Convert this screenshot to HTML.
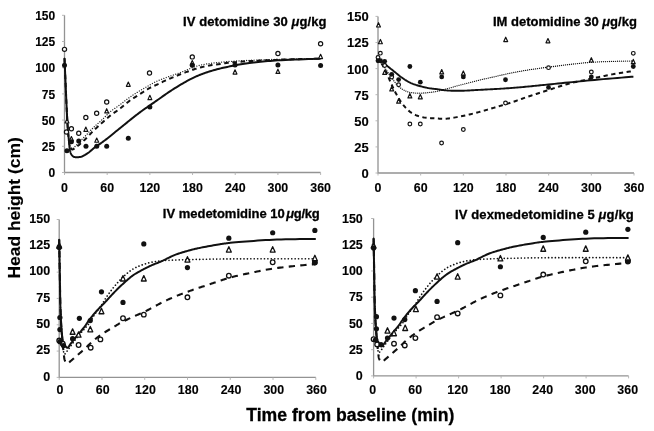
<!DOCTYPE html>
<html><head><meta charset="utf-8"><style>
html,body{margin:0;padding:0;background:#fff;}
body{width:654px;height:431px;overflow:hidden;font-family:"Liberation Sans",sans-serif;}
svg{display:block;filter:blur(0.4px);}
</style></head><body>
<svg width="654" height="431" viewBox="0 0 654 431">
<rect width="654" height="431" fill="#fff"/>
<path d="M64.50,15.30 L64.50,172.50 L320.60,172.50" fill="none" stroke="#939393" stroke-width="1.3"/>
<line x1="62.00" y1="172.50" x2="64.50" y2="172.50" stroke="#b0b0b0" stroke-width="0.9"/>
<text x="55.20" y="177.20" text-anchor="end" font-size="12" font-family="Liberation Sans, sans-serif" font-weight="bold" stroke="#000" stroke-width="0.12">0</text>
<line x1="62.00" y1="146.30" x2="64.50" y2="146.30" stroke="#b0b0b0" stroke-width="0.9"/>
<text x="55.20" y="151.00" text-anchor="end" font-size="12" font-family="Liberation Sans, sans-serif" font-weight="bold" stroke="#000" stroke-width="0.12">25</text>
<line x1="62.00" y1="120.10" x2="64.50" y2="120.10" stroke="#b0b0b0" stroke-width="0.9"/>
<text x="55.20" y="124.80" text-anchor="end" font-size="12" font-family="Liberation Sans, sans-serif" font-weight="bold" stroke="#000" stroke-width="0.12">50</text>
<line x1="62.00" y1="93.90" x2="64.50" y2="93.90" stroke="#b0b0b0" stroke-width="0.9"/>
<text x="55.20" y="98.60" text-anchor="end" font-size="12" font-family="Liberation Sans, sans-serif" font-weight="bold" stroke="#000" stroke-width="0.12">75</text>
<line x1="62.00" y1="67.70" x2="64.50" y2="67.70" stroke="#b0b0b0" stroke-width="0.9"/>
<text x="55.20" y="72.40" text-anchor="end" font-size="12" font-family="Liberation Sans, sans-serif" font-weight="bold" stroke="#000" stroke-width="0.12">100</text>
<line x1="62.00" y1="41.50" x2="64.50" y2="41.50" stroke="#b0b0b0" stroke-width="0.9"/>
<text x="55.20" y="46.20" text-anchor="end" font-size="12" font-family="Liberation Sans, sans-serif" font-weight="bold" stroke="#000" stroke-width="0.12">125</text>
<line x1="62.00" y1="15.30" x2="64.50" y2="15.30" stroke="#b0b0b0" stroke-width="0.9"/>
<text x="55.20" y="20.00" text-anchor="end" font-size="12" font-family="Liberation Sans, sans-serif" font-weight="bold" stroke="#000" stroke-width="0.12">150</text>
<line x1="64.50" y1="172.50" x2="64.50" y2="175.00" stroke="#b0b0b0" stroke-width="0.9"/>
<text transform="translate(64.50,191.80) scale(1,1.09)" text-anchor="middle" font-size="12.4" font-family="Liberation Sans, sans-serif" font-weight="bold" stroke="#000" stroke-width="0.12">0</text>
<line x1="107.18" y1="172.50" x2="107.18" y2="175.00" stroke="#b0b0b0" stroke-width="0.9"/>
<text transform="translate(107.18,191.80) scale(1,1.09)" text-anchor="middle" font-size="12.4" font-family="Liberation Sans, sans-serif" font-weight="bold" stroke="#000" stroke-width="0.12">60</text>
<line x1="149.87" y1="172.50" x2="149.87" y2="175.00" stroke="#b0b0b0" stroke-width="0.9"/>
<text transform="translate(149.87,191.80) scale(1,1.09)" text-anchor="middle" font-size="12.4" font-family="Liberation Sans, sans-serif" font-weight="bold" stroke="#000" stroke-width="0.12">120</text>
<line x1="192.55" y1="172.50" x2="192.55" y2="175.00" stroke="#b0b0b0" stroke-width="0.9"/>
<text transform="translate(192.55,191.80) scale(1,1.09)" text-anchor="middle" font-size="12.4" font-family="Liberation Sans, sans-serif" font-weight="bold" stroke="#000" stroke-width="0.12">180</text>
<line x1="235.23" y1="172.50" x2="235.23" y2="175.00" stroke="#b0b0b0" stroke-width="0.9"/>
<text transform="translate(235.23,191.80) scale(1,1.09)" text-anchor="middle" font-size="12.4" font-family="Liberation Sans, sans-serif" font-weight="bold" stroke="#000" stroke-width="0.12">240</text>
<line x1="277.92" y1="172.50" x2="277.92" y2="175.00" stroke="#b0b0b0" stroke-width="0.9"/>
<text transform="translate(277.92,191.80) scale(1,1.09)" text-anchor="middle" font-size="12.4" font-family="Liberation Sans, sans-serif" font-weight="bold" stroke="#000" stroke-width="0.12">300</text>
<line x1="320.60" y1="172.50" x2="320.60" y2="175.00" stroke="#b0b0b0" stroke-width="0.9"/>
<text transform="translate(320.60,191.80) scale(1,1.09)" text-anchor="middle" font-size="12.4" font-family="Liberation Sans, sans-serif" font-weight="bold" stroke="#000" stroke-width="0.12">360</text>
<path d="M64.50,58.27 L64.52,58.65 L64.56,59.71 L64.63,61.36 L64.72,63.51 L64.83,66.05 L64.95,68.88 L65.08,71.91 L65.21,75.04 L65.35,78.16 L65.48,81.19 L65.60,84.03 L65.71,86.56 L65.81,88.95 L65.92,91.38 L66.02,93.85 L66.13,96.32 L66.24,98.80 L66.35,101.26 L66.45,103.70 L66.56,106.08 L66.67,108.41 L66.78,110.65 L66.88,112.81 L66.99,114.86 L67.07,116.29 L67.14,117.67 L67.21,119.02 L67.29,120.33 L67.36,121.60 L67.43,122.85 L67.51,124.07 L67.58,125.27 L67.66,126.45 L67.74,127.63 L67.83,128.79 L67.91,129.95 L67.99,130.95 L68.06,131.95 L68.14,132.95 L68.21,133.94 L68.28,134.92 L68.36,135.88 L68.44,136.82 L68.53,137.73 L68.63,138.62 L68.73,139.47 L68.85,140.29 L68.98,141.06 L69.08,141.58 L69.17,142.08 L69.27,142.56 L69.38,143.04 L69.48,143.49 L69.59,143.94 L69.71,144.37 L69.83,144.78 L69.96,145.18 L70.10,145.57 L70.25,145.94 L70.40,146.30 L70.53,146.57 L70.66,146.86 L70.80,147.15 L70.94,147.43 L71.08,147.71 L71.23,147.97 L71.38,148.22 L71.53,148.43 L71.69,148.62 L71.85,148.76 L72.02,148.87 L72.18,148.92 L72.33,148.92 L72.48,148.89 L72.63,148.82 L72.79,148.72 L72.94,148.59 L73.10,148.44 L73.26,148.28 L73.43,148.10 L73.60,147.92 L73.79,147.73 L73.98,147.54 L74.17,147.35 L74.58,146.98 L75.02,146.55 L75.49,146.08 L75.99,145.57 L76.51,145.02 L77.05,144.46 L77.60,143.88 L78.15,143.30 L78.70,142.71 L79.25,142.14 L79.78,141.59 L80.29,141.06 L80.77,140.57 L81.25,140.09 L81.72,139.61 L82.19,139.14 L82.66,138.67 L83.13,138.19 L83.60,137.72 L84.07,137.25 L84.54,136.77 L85.02,136.28 L85.50,135.79 L85.98,135.30 L86.51,134.75 L87.03,134.21 L87.54,133.66 L88.06,133.12 L88.58,132.56 L89.10,132.00 L89.63,131.44 L90.18,130.87 L90.74,130.29 L91.31,129.70 L91.91,129.10 L92.53,128.48 L93.37,127.67 L94.27,126.82 L95.22,125.94 L96.21,125.04 L97.22,124.12 L98.24,123.20 L99.26,122.28 L100.26,121.37 L101.24,120.48 L102.19,119.62 L103.08,118.79 L103.91,118.00 L104.49,117.44 L105.03,116.90 L105.54,116.37 L106.03,115.86 L106.51,115.35 L106.99,114.86 L107.46,114.37 L107.93,113.88 L108.42,113.39 L108.93,112.91 L109.46,112.42 L110.03,111.93 L110.72,111.36 L111.43,110.79 L112.18,110.23 L112.94,109.68 L113.72,109.13 L114.51,108.57 L115.31,108.02 L116.11,107.47 L116.91,106.91 L117.71,106.35 L118.50,105.79 L119.28,105.22 L120.05,104.63 L120.83,104.04 L121.61,103.44 L122.38,102.84 L123.16,102.23 L123.93,101.62 L124.70,101.02 L125.48,100.42 L126.26,99.82 L127.03,99.23 L127.81,98.66 L128.60,98.09 L129.35,97.56 L130.11,97.03 L130.87,96.50 L131.64,95.98 L132.40,95.47 L133.16,94.97 L133.93,94.46 L134.69,93.97 L135.46,93.47 L136.23,92.98 L137.00,92.50 L137.77,92.01 L138.54,91.54 L139.32,91.07 L140.10,90.60 L140.88,90.14 L141.66,89.68 L142.44,89.22 L143.23,88.77 L144.01,88.32 L144.78,87.88 L145.56,87.44 L146.33,87.00 L147.09,86.56 L147.81,86.15 L148.52,85.74 L149.22,85.33 L149.91,84.93 L150.61,84.52 L151.30,84.12 L152.00,83.73 L152.69,83.34 L153.40,82.95 L154.11,82.58 L154.83,82.21 L155.56,81.85 L156.31,81.49 L157.06,81.15 L157.82,80.82 L158.57,80.49 L159.33,80.18 L160.10,79.87 L160.88,79.56 L161.67,79.25 L162.48,78.94 L163.30,78.62 L164.15,78.30 L165.02,77.97 L166.14,77.55 L167.29,77.14 L168.47,76.72 L169.67,76.30 L170.90,75.88 L172.16,75.45 L173.43,75.02 L174.72,74.58 L176.02,74.13 L177.32,73.67 L178.64,73.21 L179.96,72.73 L181.48,72.15 L183.04,71.54 L184.64,70.89 L186.25,70.22 L187.88,69.54 L189.52,68.86 L191.17,68.19 L192.80,67.54 L194.43,66.93 L196.04,66.36 L197.62,65.84 L199.17,65.39 L200.49,65.06 L201.81,64.75 L203.12,64.49 L204.42,64.25 L205.71,64.03 L207.00,63.84 L208.27,63.66 L209.53,63.50 L210.78,63.34 L212.02,63.19 L213.25,63.04 L214.46,62.88 L215.51,62.74 L216.53,62.61 L217.52,62.49 L218.50,62.38 L219.46,62.28 L220.42,62.17 L221.40,62.08 L222.39,61.99 L223.40,61.89 L224.45,61.80 L225.55,61.71 L226.70,61.62 L228.34,61.50 L230.05,61.38 L231.83,61.26 L233.67,61.15 L235.55,61.05 L237.48,60.94 L239.44,60.84 L241.42,60.74 L243.43,60.64 L245.44,60.55 L247.45,60.46 L249.46,60.36 L251.70,60.26 L253.95,60.16 L256.22,60.06 L258.50,59.97 L260.80,59.88 L263.13,59.79 L265.49,59.70 L267.89,59.62 L270.32,59.54 L272.80,59.46 L275.33,59.39 L277.92,59.32 L281.44,59.23 L285.52,59.15 L289.98,59.08 L294.67,59.01 L299.41,58.94 L304.05,58.88 L308.43,58.82 L312.37,58.78 L315.73,58.74 L318.33,58.71 L320.00,58.69 L320.60,58.69" fill="none" stroke="#222" stroke-width="1.3" stroke-linecap="round" stroke-dasharray="0.01 2.5"/>
<path d="M64.50,58.27 L64.52,58.65 L64.56,59.71 L64.63,61.36 L64.72,63.51 L64.83,66.05 L64.95,68.88 L65.08,71.91 L65.21,75.04 L65.35,78.16 L65.48,81.19 L65.60,84.03 L65.71,86.56 L65.81,88.95 L65.92,91.38 L66.02,93.85 L66.13,96.32 L66.24,98.80 L66.35,101.26 L66.45,103.70 L66.56,106.08 L66.67,108.41 L66.78,110.65 L66.88,112.81 L66.99,114.86 L67.07,116.29 L67.14,117.67 L67.21,119.02 L67.29,120.33 L67.36,121.60 L67.43,122.85 L67.51,124.07 L67.58,125.27 L67.66,126.45 L67.74,127.63 L67.83,128.79 L67.91,129.95 L67.99,130.95 L68.07,131.94 L68.14,132.92 L68.22,133.90 L68.30,134.86 L68.38,135.81 L68.46,136.75 L68.55,137.66 L68.64,138.55 L68.75,139.41 L68.86,140.25 L68.98,141.06 L69.08,141.66 L69.17,142.26 L69.26,142.85 L69.36,143.43 L69.46,144.00 L69.56,144.55 L69.67,145.09 L69.79,145.60 L69.93,146.08 L70.07,146.54 L70.23,146.96 L70.40,147.35 L70.53,147.59 L70.66,147.83 L70.79,148.06 L70.93,148.28 L71.07,148.49 L71.22,148.69 L71.37,148.87 L71.53,149.04 L71.69,149.18 L71.85,149.29 L72.01,149.38 L72.18,149.44 L72.33,149.47 L72.48,149.48 L72.63,149.46 L72.79,149.42 L72.94,149.37 L73.10,149.31 L73.27,149.23 L73.44,149.14 L73.61,149.04 L73.79,148.93 L73.98,148.82 L74.17,148.71 L74.58,148.46 L75.02,148.16 L75.50,147.81 L76.01,147.42 L76.53,147.00 L77.07,146.56 L77.62,146.10 L78.17,145.62 L78.72,145.15 L79.26,144.68 L79.79,144.22 L80.29,143.78 L80.78,143.36 L81.26,142.94 L81.74,142.52 L82.21,142.10 L82.68,141.67 L83.15,141.25 L83.62,140.81 L84.09,140.37 L84.56,139.93 L85.03,139.48 L85.50,139.02 L85.98,138.54 L86.51,138.01 L87.04,137.47 L87.55,136.92 L88.07,136.37 L88.59,135.80 L89.11,135.23 L89.64,134.65 L90.18,134.06 L90.74,133.47 L91.31,132.86 L91.91,132.25 L92.53,131.63 L93.37,130.81 L94.25,129.96 L95.19,129.08 L96.15,128.18 L97.14,127.26 L98.15,126.34 L99.16,125.42 L100.16,124.52 L101.15,123.63 L102.11,122.76 L103.03,121.94 L103.91,121.15 L104.58,120.54 L105.24,119.95 L105.88,119.37 L106.50,118.81 L107.12,118.25 L107.73,117.71 L108.33,117.18 L108.94,116.65 L109.54,116.14 L110.15,115.64 L110.76,115.14 L111.38,114.65 L111.97,114.21 L112.56,113.78 L113.15,113.37 L113.75,112.97 L114.35,112.57 L114.94,112.18 L115.54,111.80 L116.13,111.41 L116.71,111.03 L117.29,110.64 L117.86,110.24 L118.42,109.83 L118.95,109.44 L119.46,109.04 L119.97,108.64 L120.47,108.24 L120.96,107.84 L121.45,107.43 L121.94,107.03 L122.43,106.62 L122.92,106.22 L123.41,105.82 L123.90,105.41 L124.40,105.01 L124.89,104.61 L125.39,104.20 L125.88,103.79 L126.36,103.38 L126.85,102.98 L127.34,102.57 L127.83,102.16 L128.33,101.76 L128.83,101.36 L129.33,100.96 L129.85,100.57 L130.37,100.19 L130.93,99.79 L131.50,99.41 L132.08,99.02 L132.66,98.64 L133.25,98.27 L133.85,97.90 L134.45,97.53 L135.04,97.16 L135.64,96.79 L136.24,96.42 L136.83,96.05 L137.42,95.68 L138.00,95.31 L138.58,94.94 L139.16,94.56 L139.75,94.19 L140.33,93.81 L140.91,93.44 L141.49,93.07 L142.07,92.70 L142.64,92.34 L143.20,91.98 L143.76,91.63 L144.32,91.28 L144.81,90.97 L145.28,90.67 L145.74,90.38 L146.20,90.09 L146.65,89.80 L147.11,89.51 L147.56,89.23 L148.03,88.95 L148.50,88.67 L148.99,88.39 L149.49,88.10 L150.01,87.82 L150.66,87.48 L151.34,87.15 L152.04,86.81 L152.76,86.48 L153.49,86.14 L154.24,85.81 L154.99,85.48 L155.73,85.15 L156.47,84.82 L157.20,84.49 L157.92,84.17 L158.62,83.84 L159.24,83.54 L159.86,83.23 L160.48,82.93 L161.08,82.62 L161.69,82.32 L162.29,82.02 L162.88,81.72 L163.48,81.42 L164.07,81.13 L164.67,80.84 L165.27,80.55 L165.87,80.28 L166.46,80.01 L167.04,79.76 L167.63,79.51 L168.21,79.26 L168.80,79.02 L169.38,78.78 L169.97,78.54 L170.55,78.30 L171.14,78.07 L171.73,77.83 L172.32,77.59 L172.92,77.34 L173.53,77.09 L174.14,76.83 L174.75,76.58 L175.36,76.32 L175.98,76.07 L176.59,75.81 L177.21,75.55 L177.83,75.30 L178.45,75.05 L179.07,74.80 L179.69,74.55 L180.31,74.30 L180.94,74.06 L181.57,73.82 L182.21,73.57 L182.84,73.33 L183.47,73.10 L184.11,72.86 L184.75,72.63 L185.38,72.39 L186.02,72.16 L186.66,71.93 L187.29,71.70 L187.93,71.47 L188.55,71.25 L189.18,71.02 L189.81,70.79 L190.44,70.56 L191.07,70.34 L191.70,70.11 L192.33,69.89 L192.96,69.68 L193.58,69.46 L194.21,69.25 L194.84,69.05 L195.47,68.85 L196.08,68.67 L196.69,68.48 L197.29,68.31 L197.90,68.13 L198.51,67.96 L199.12,67.79 L199.73,67.63 L200.34,67.47 L200.95,67.32 L201.56,67.16 L202.18,67.01 L202.79,66.86 L203.43,66.71 L204.06,66.57 L204.69,66.42 L205.33,66.28 L205.97,66.15 L206.61,66.01 L207.25,65.88 L207.90,65.76 L208.54,65.63 L209.18,65.52 L209.83,65.40 L210.48,65.29 L211.13,65.18 L211.78,65.09 L212.44,64.99 L213.09,64.91 L213.75,64.82 L214.40,64.74 L215.06,64.66 L215.72,64.58 L216.38,64.50 L217.04,64.42 L217.71,64.33 L218.37,64.24 L219.05,64.14 L219.72,64.04 L220.38,63.93 L221.03,63.83 L221.69,63.72 L222.36,63.61 L223.03,63.50 L223.72,63.39 L224.42,63.29 L225.15,63.18 L225.91,63.08 L226.70,62.98 L227.82,62.86 L228.99,62.73 L230.20,62.61 L231.46,62.49 L232.74,62.37 L234.06,62.26 L235.40,62.15 L236.77,62.04 L238.15,61.93 L239.54,61.83 L240.94,61.72 L242.35,61.62 L244.00,61.50 L245.68,61.39 L247.38,61.27 L249.10,61.16 L250.85,61.06 L252.62,60.95 L254.41,60.85 L256.22,60.75 L258.06,60.65 L259.92,60.55 L261.79,60.46 L263.69,60.36 L265.92,60.26 L268.19,60.16 L270.51,60.06 L272.87,59.97 L275.25,59.88 L277.66,59.79 L280.08,59.70 L282.51,59.62 L284.93,59.54 L287.35,59.46 L289.76,59.39 L292.14,59.32 L294.70,59.24 L297.55,59.17 L300.59,59.10 L303.74,59.03 L306.88,58.96 L309.93,58.90 L312.78,58.84 L315.33,58.79 L317.49,58.75 L319.15,58.71 L320.22,58.69 L320.60,58.69" fill="none" stroke="#111" stroke-width="2.0" stroke-dasharray="4.6 3.6"/>
<path d="M64.50,58.27 L64.52,58.65 L64.56,59.71 L64.63,61.36 L64.72,63.51 L64.83,66.05 L64.95,68.88 L65.08,71.91 L65.21,75.04 L65.35,78.16 L65.48,81.19 L65.60,84.03 L65.71,86.56 L65.81,88.95 L65.92,91.38 L66.02,93.85 L66.13,96.32 L66.24,98.80 L66.35,101.26 L66.45,103.70 L66.56,106.08 L66.67,108.41 L66.78,110.65 L66.88,112.81 L66.99,114.86 L67.07,116.29 L67.14,117.67 L67.21,119.02 L67.29,120.33 L67.36,121.60 L67.43,122.85 L67.51,124.07 L67.58,125.27 L67.66,126.45 L67.74,127.63 L67.83,128.79 L67.91,129.95 L67.99,130.94 L68.08,131.92 L68.16,132.88 L68.25,133.83 L68.34,134.76 L68.43,135.69 L68.53,136.61 L68.62,137.51 L68.71,138.41 L68.80,139.30 L68.89,140.18 L68.98,141.06 L69.06,141.85 L69.12,142.64 L69.18,143.43 L69.24,144.22 L69.30,145.00 L69.36,145.77 L69.43,146.53 L69.50,147.27 L69.58,147.99 L69.68,148.68 L69.78,149.34 L69.91,149.97 L70.00,150.41 L70.10,150.84 L70.20,151.26 L70.30,151.66 L70.41,152.06 L70.52,152.44 L70.64,152.82 L70.77,153.17 L70.91,153.52 L71.06,153.85 L71.22,154.17 L71.40,154.47 L71.56,154.72 L71.73,154.96 L71.91,155.19 L72.09,155.41 L72.28,155.63 L72.48,155.83 L72.68,156.02 L72.89,156.20 L73.10,156.37 L73.32,156.52 L73.53,156.66 L73.75,156.78 L73.93,156.87 L74.12,156.94 L74.31,157.00 L74.50,157.05 L74.69,157.09 L74.88,157.12 L75.08,157.14 L75.28,157.16 L75.49,157.17 L75.71,157.18 L75.93,157.19 L76.17,157.20 L76.52,157.21 L76.90,157.22 L77.30,157.21 L77.72,157.20 L78.15,157.18 L78.58,157.16 L79.02,157.12 L79.46,157.07 L79.89,157.02 L80.30,156.95 L80.70,156.87 L81.08,156.78 L81.38,156.69 L81.68,156.59 L81.97,156.48 L82.25,156.36 L82.52,156.24 L82.79,156.10 L83.06,155.96 L83.32,155.82 L83.59,155.67 L83.86,155.52 L84.14,155.36 L84.42,155.21 L84.74,155.03 L85.06,154.85 L85.38,154.66 L85.70,154.47 L86.03,154.28 L86.35,154.08 L86.68,153.87 L87.01,153.65 L87.35,153.43 L87.69,153.19 L88.04,152.95 L88.40,152.69 L88.89,152.33 L89.39,151.94 L89.90,151.52 L90.41,151.08 L90.94,150.63 L91.47,150.17 L92.02,149.70 L92.57,149.22 L93.13,148.75 L93.71,148.27 L94.29,147.81 L94.88,147.35 L95.56,146.84 L96.26,146.34 L96.97,145.84 L97.70,145.35 L98.43,144.85 L99.18,144.35 L99.94,143.84 L100.71,143.32 L101.50,142.79 L102.29,142.24 L103.09,141.66 L103.91,141.06 L104.99,140.24 L106.13,139.36 L107.32,138.42 L108.54,137.45 L109.79,136.45 L111.03,135.45 L112.27,134.44 L113.48,133.45 L114.65,132.50 L115.76,131.59 L116.81,130.73 L117.78,129.95 L118.38,129.48 L118.93,129.03 L119.46,128.61 L119.96,128.20 L120.44,127.81 L120.92,127.43 L121.39,127.05 L121.86,126.67 L122.34,126.29 L122.84,125.88 L123.35,125.47 L123.90,125.03 L124.61,124.45 L125.34,123.86 L126.09,123.24 L126.86,122.61 L127.64,121.98 L128.43,121.33 L129.23,120.68 L130.04,120.02 L130.84,119.38 L131.64,118.73 L132.43,118.10 L133.22,117.48 L133.99,116.88 L134.77,116.27 L135.56,115.66 L136.35,115.05 L137.14,114.44 L137.93,113.84 L138.71,113.24 L139.49,112.66 L140.26,112.08 L141.01,111.52 L141.75,110.98 L142.47,110.46 L143.05,110.04 L143.60,109.65 L144.15,109.27 L144.68,108.90 L145.21,108.54 L145.73,108.18 L146.26,107.83 L146.78,107.47 L147.32,107.11 L147.87,106.74 L148.43,106.35 L149.01,105.95 L149.73,105.46 L150.45,104.95 L151.19,104.44 L151.93,103.92 L152.69,103.39 L153.46,102.85 L154.24,102.31 L155.03,101.75 L155.84,101.19 L156.66,100.62 L157.49,100.04 L158.33,99.45 L159.37,98.73 L160.43,97.98 L161.51,97.22 L162.61,96.44 L163.72,95.65 L164.86,94.85 L166.01,94.04 L167.17,93.23 L168.36,92.42 L169.55,91.61 L170.77,90.81 L171.99,90.02 L173.40,89.13 L174.86,88.21 L176.36,87.28 L177.89,86.34 L179.44,85.40 L181.00,84.47 L182.56,83.55 L184.11,82.66 L185.64,81.79 L187.13,80.96 L188.59,80.17 L189.99,79.44 L191.08,78.88 L192.14,78.36 L193.18,77.85 L194.20,77.37 L195.21,76.91 L196.21,76.46 L197.21,76.02 L198.20,75.60 L199.19,75.19 L200.19,74.78 L201.20,74.38 L202.22,73.99 L203.23,73.61 L204.23,73.24 L205.23,72.88 L206.23,72.54 L207.22,72.20 L208.23,71.87 L209.24,71.55 L210.25,71.24 L211.28,70.92 L212.33,70.62 L213.38,70.31 L214.46,70.01 L215.68,69.67 L216.91,69.34 L218.15,69.02 L219.41,68.70 L220.69,68.39 L221.97,68.08 L223.27,67.78 L224.59,67.48 L225.91,67.19 L227.25,66.90 L228.60,66.62 L229.97,66.34 L231.50,66.03 L233.04,65.72 L234.59,65.42 L236.15,65.12 L237.73,64.83 L239.33,64.55 L240.95,64.27 L242.60,63.99 L244.27,63.73 L245.97,63.47 L247.70,63.22 L249.46,62.98 L251.62,62.71 L253.82,62.45 L256.05,62.19 L258.32,61.95 L260.63,61.73 L262.98,61.51 L265.37,61.30 L267.80,61.10 L270.27,60.90 L272.77,60.72 L275.32,60.54 L277.92,60.36 L281.44,60.15 L285.52,59.95 L289.98,59.75 L294.66,59.56 L299.41,59.38 L304.05,59.21 L308.43,59.06 L312.37,58.94 L315.73,58.83 L318.33,58.75 L320.00,58.70 L320.60,58.69" fill="none" stroke="#111" stroke-width="2.0" stroke-linejoin="round"/>
<circle cx="64.50" cy="49.36" r="2.1" fill="#fff" stroke="#111" stroke-width="1.2"/>
<circle cx="66.49" cy="132.05" r="2.1" fill="#fff" stroke="#111" stroke-width="1.2"/>
<circle cx="71.40" cy="128.69" r="2.1" fill="#fff" stroke="#111" stroke-width="1.2"/>
<circle cx="78.73" cy="133.20" r="2.1" fill="#fff" stroke="#111" stroke-width="1.2"/>
<circle cx="85.84" cy="117.48" r="2.1" fill="#fff" stroke="#111" stroke-width="1.2"/>
<circle cx="96.65" cy="113.18" r="2.1" fill="#fff" stroke="#111" stroke-width="1.2"/>
<circle cx="106.69" cy="102.07" r="2.1" fill="#fff" stroke="#111" stroke-width="1.2"/>
<circle cx="149.51" cy="72.94" r="2.1" fill="#fff" stroke="#111" stroke-width="1.2"/>
<circle cx="192.27" cy="56.91" r="2.1" fill="#fff" stroke="#111" stroke-width="1.2"/>
<circle cx="277.92" cy="53.45" r="2.1" fill="#fff" stroke="#111" stroke-width="1.2"/>
<circle cx="320.60" cy="43.81" r="2.1" fill="#fff" stroke="#111" stroke-width="1.2"/>
<path d="M66.99,118.71 L68.94,123.00 L65.04,123.00 Z" fill="#fff" stroke="#111" stroke-width="1.15" stroke-linejoin="round"/>
<path d="M71.40,136.53 L73.35,140.82 L69.45,140.82 Z" fill="#fff" stroke="#111" stroke-width="1.15" stroke-linejoin="round"/>
<path d="M85.84,127.09 L87.79,131.38 L83.89,131.38 Z" fill="#fff" stroke="#111" stroke-width="1.15" stroke-linejoin="round"/>
<path d="M96.73,137.99 L98.68,142.28 L94.78,142.28 Z" fill="#fff" stroke="#111" stroke-width="1.15" stroke-linejoin="round"/>
<path d="M106.69,108.65 L108.64,112.94 L104.74,112.94 Z" fill="#fff" stroke="#111" stroke-width="1.15" stroke-linejoin="round"/>
<path d="M128.31,82.03 L130.26,86.32 L126.36,86.32 Z" fill="#fff" stroke="#111" stroke-width="1.15" stroke-linejoin="round"/>
<path d="M149.87,95.34 L151.82,99.63 L147.92,99.63 Z" fill="#fff" stroke="#111" stroke-width="1.15" stroke-linejoin="round"/>
<path d="M192.27,60.55 L194.22,64.84 L190.32,64.84 Z" fill="#fff" stroke="#111" stroke-width="1.15" stroke-linejoin="round"/>
<path d="M235.02,69.77 L236.97,74.06 L233.07,74.06 Z" fill="#fff" stroke="#111" stroke-width="1.15" stroke-linejoin="round"/>
<path d="M277.92,69.14 L279.87,73.43 L275.97,73.43 Z" fill="#fff" stroke="#111" stroke-width="1.15" stroke-linejoin="round"/>
<path d="M320.60,54.26 L322.55,58.55 L318.65,58.55 Z" fill="#fff" stroke="#111" stroke-width="1.15" stroke-linejoin="round"/>
<circle cx="64.50" cy="65.18" r="2.5" fill="#111"/>
<circle cx="66.92" cy="150.70" r="2.5" fill="#111"/>
<circle cx="71.40" cy="141.79" r="2.5" fill="#111"/>
<circle cx="78.73" cy="141.06" r="2.5" fill="#111"/>
<circle cx="85.98" cy="146.20" r="2.5" fill="#111"/>
<circle cx="96.73" cy="146.20" r="2.5" fill="#111"/>
<circle cx="106.69" cy="146.20" r="2.5" fill="#111"/>
<circle cx="128.31" cy="138.34" r="2.5" fill="#111"/>
<circle cx="149.87" cy="107.00" r="2.5" fill="#111"/>
<circle cx="192.27" cy="65.18" r="2.5" fill="#111"/>
<circle cx="235.02" cy="65.08" r="2.5" fill="#111"/>
<circle cx="277.92" cy="65.08" r="2.5" fill="#111"/>
<circle cx="320.60" cy="65.60" r="2.5" fill="#111"/>
<path d="M378.00,16.40 L378.00,173.00 L634.00,173.00" fill="none" stroke="#939393" stroke-width="1.3"/>
<line x1="375.50" y1="173.00" x2="378.00" y2="173.00" stroke="#b0b0b0" stroke-width="0.9"/>
<text x="368.80" y="177.90" text-anchor="end" font-size="13" font-family="Liberation Sans, sans-serif" font-weight="bold" stroke="#000" stroke-width="0.12">0</text>
<line x1="375.50" y1="146.90" x2="378.00" y2="146.90" stroke="#b0b0b0" stroke-width="0.9"/>
<text x="368.80" y="151.80" text-anchor="end" font-size="13" font-family="Liberation Sans, sans-serif" font-weight="bold" stroke="#000" stroke-width="0.12">25</text>
<line x1="375.50" y1="120.80" x2="378.00" y2="120.80" stroke="#b0b0b0" stroke-width="0.9"/>
<text x="368.80" y="125.70" text-anchor="end" font-size="13" font-family="Liberation Sans, sans-serif" font-weight="bold" stroke="#000" stroke-width="0.12">50</text>
<line x1="375.50" y1="94.70" x2="378.00" y2="94.70" stroke="#b0b0b0" stroke-width="0.9"/>
<text x="368.80" y="99.60" text-anchor="end" font-size="13" font-family="Liberation Sans, sans-serif" font-weight="bold" stroke="#000" stroke-width="0.12">75</text>
<line x1="375.50" y1="68.60" x2="378.00" y2="68.60" stroke="#b0b0b0" stroke-width="0.9"/>
<text x="368.80" y="73.50" text-anchor="end" font-size="13" font-family="Liberation Sans, sans-serif" font-weight="bold" stroke="#000" stroke-width="0.12">100</text>
<line x1="375.50" y1="42.50" x2="378.00" y2="42.50" stroke="#b0b0b0" stroke-width="0.9"/>
<text x="368.80" y="47.40" text-anchor="end" font-size="13" font-family="Liberation Sans, sans-serif" font-weight="bold" stroke="#000" stroke-width="0.12">125</text>
<line x1="375.50" y1="16.40" x2="378.00" y2="16.40" stroke="#b0b0b0" stroke-width="0.9"/>
<text x="368.80" y="21.30" text-anchor="end" font-size="13" font-family="Liberation Sans, sans-serif" font-weight="bold" stroke="#000" stroke-width="0.12">150</text>
<line x1="378.00" y1="173.00" x2="378.00" y2="175.50" stroke="#b0b0b0" stroke-width="0.9"/>
<text transform="translate(378.00,191.80) scale(1,1.045)" text-anchor="middle" font-size="12.4" font-family="Liberation Sans, sans-serif" font-weight="bold" stroke="#000" stroke-width="0.12">0</text>
<line x1="420.67" y1="173.00" x2="420.67" y2="175.50" stroke="#b0b0b0" stroke-width="0.9"/>
<text transform="translate(420.67,191.80) scale(1,1.045)" text-anchor="middle" font-size="12.4" font-family="Liberation Sans, sans-serif" font-weight="bold" stroke="#000" stroke-width="0.12">60</text>
<line x1="463.33" y1="173.00" x2="463.33" y2="175.50" stroke="#b0b0b0" stroke-width="0.9"/>
<text transform="translate(463.33,191.80) scale(1,1.045)" text-anchor="middle" font-size="12.4" font-family="Liberation Sans, sans-serif" font-weight="bold" stroke="#000" stroke-width="0.12">120</text>
<line x1="506.00" y1="173.00" x2="506.00" y2="175.50" stroke="#b0b0b0" stroke-width="0.9"/>
<text transform="translate(506.00,191.80) scale(1,1.045)" text-anchor="middle" font-size="12.4" font-family="Liberation Sans, sans-serif" font-weight="bold" stroke="#000" stroke-width="0.12">180</text>
<line x1="548.67" y1="173.00" x2="548.67" y2="175.50" stroke="#b0b0b0" stroke-width="0.9"/>
<text transform="translate(548.67,191.80) scale(1,1.045)" text-anchor="middle" font-size="12.4" font-family="Liberation Sans, sans-serif" font-weight="bold" stroke="#000" stroke-width="0.12">240</text>
<line x1="591.33" y1="173.00" x2="591.33" y2="175.50" stroke="#b0b0b0" stroke-width="0.9"/>
<text transform="translate(591.33,191.80) scale(1,1.045)" text-anchor="middle" font-size="12.4" font-family="Liberation Sans, sans-serif" font-weight="bold" stroke="#000" stroke-width="0.12">300</text>
<line x1="634.00" y1="173.00" x2="634.00" y2="175.50" stroke="#b0b0b0" stroke-width="0.9"/>
<text transform="translate(634.00,191.80) scale(1,1.045)" text-anchor="middle" font-size="12.4" font-family="Liberation Sans, sans-serif" font-weight="bold" stroke="#000" stroke-width="0.12">360</text>
<path d="M378.00,60.25 L378.04,60.27 L378.15,60.34 L378.32,60.45 L378.54,60.59 L378.80,60.76 L379.09,60.95 L379.40,61.17 L379.71,61.39 L380.02,61.63 L380.32,61.87 L380.60,62.11 L380.84,62.34 L381.11,62.61 L381.35,62.90 L381.59,63.20 L381.82,63.52 L382.05,63.84 L382.28,64.18 L382.51,64.53 L382.75,64.90 L383.00,65.28 L383.26,65.68 L383.54,66.09 L383.83,66.51 L384.36,67.26 L384.93,68.09 L385.55,68.98 L386.19,69.93 L386.87,70.91 L387.56,71.91 L388.26,72.93 L388.97,73.95 L389.68,74.96 L390.38,75.94 L391.06,76.89 L391.72,77.79 L392.30,78.57 L392.86,79.35 L393.41,80.13 L393.95,80.90 L394.50,81.66 L395.05,82.41 L395.60,83.14 L396.16,83.86 L396.75,84.55 L397.35,85.21 L397.97,85.85 L398.62,86.45 L399.27,87.00 L399.93,87.54 L400.61,88.06 L401.31,88.55 L402.02,89.03 L402.74,89.48 L403.47,89.92 L404.22,90.32 L404.97,90.70 L405.74,91.05 L406.52,91.38 L407.30,91.67 L408.11,91.94 L408.94,92.16 L409.78,92.36 L410.64,92.52 L411.51,92.66 L412.38,92.77 L413.27,92.86 L414.15,92.94 L415.04,93.00 L415.92,93.05 L416.81,93.09 L417.68,93.13 L418.56,93.16 L419.45,93.17 L420.34,93.16 L421.24,93.13 L422.14,93.09 L423.03,93.04 L423.93,92.98 L424.81,92.91 L425.68,92.84 L426.54,92.76 L427.38,92.69 L428.20,92.61 L428.90,92.55 L429.57,92.48 L430.22,92.42 L430.87,92.35 L431.50,92.27 L432.13,92.20 L432.76,92.11 L433.40,92.02 L434.03,91.92 L434.68,91.81 L435.35,91.70 L436.03,91.57 L436.82,91.41 L437.62,91.23 L438.43,91.04 L439.24,90.84 L440.06,90.63 L440.89,90.41 L441.73,90.18 L442.59,89.94 L443.46,89.70 L444.35,89.46 L445.26,89.21 L446.20,88.96 L447.42,88.63 L448.69,88.28 L450.00,87.92 L451.34,87.55 L452.71,87.17 L454.10,86.78 L455.50,86.39 L456.91,85.99 L458.32,85.60 L459.72,85.22 L461.11,84.84 L462.48,84.47 L463.83,84.11 L465.18,83.75 L466.53,83.39 L467.88,83.04 L469.23,82.68 L470.58,82.33 L471.93,81.98 L473.28,81.64 L474.64,81.29 L475.99,80.96 L477.34,80.62 L478.69,80.29 L480.04,79.97 L481.39,79.65 L482.74,79.34 L484.09,79.04 L485.44,78.73 L486.79,78.43 L488.15,78.14 L489.50,77.84 L490.85,77.54 L492.20,77.24 L493.55,76.94 L494.91,76.64 L496.26,76.33 L497.60,76.02 L498.95,75.71 L500.29,75.40 L501.62,75.09 L502.97,74.78 L504.31,74.47 L505.67,74.16 L507.03,73.86 L508.40,73.56 L509.79,73.27 L511.19,72.98 L512.71,72.68 L514.25,72.38 L515.80,72.09 L517.37,71.80 L518.95,71.51 L520.53,71.23 L522.12,70.95 L523.71,70.68 L525.30,70.41 L526.88,70.15 L528.46,69.89 L530.04,69.64 L531.56,69.41 L533.04,69.19 L534.49,68.97 L535.93,68.77 L537.37,68.57 L538.82,68.38 L540.29,68.18 L541.81,67.98 L543.38,67.78 L545.01,67.58 L546.72,67.36 L548.52,67.14 L551.43,66.77 L554.54,66.37 L557.83,65.94 L561.27,65.50 L564.83,65.05 L568.47,64.60 L572.18,64.16 L575.92,63.73 L579.66,63.32 L583.38,62.95 L587.04,62.62 L590.62,62.34 L594.45,62.09 L598.72,61.88 L603.30,61.69 L608.03,61.53 L612.76,61.39 L617.35,61.27 L621.64,61.18 L625.48,61.10 L628.74,61.05 L631.24,61.01 L632.86,60.99 L633.43,60.98" fill="none" stroke="#111" stroke-width="1.3" stroke-linecap="round" stroke-dasharray="0.01 2.0"/>
<path d="M381.56,63.38 L381.61,63.47 L381.76,63.73 L381.99,64.14 L382.29,64.68 L382.65,65.32 L383.05,66.04 L383.48,66.83 L383.92,67.65 L384.37,68.49 L384.81,69.33 L385.23,70.14 L385.61,70.90 L386.09,71.91 L386.58,72.98 L387.09,74.11 L387.59,75.28 L388.11,76.48 L388.63,77.69 L389.15,78.92 L389.67,80.15 L390.19,81.36 L390.71,82.54 L391.22,83.68 L391.72,84.78 L392.16,85.71 L392.58,86.62 L393.00,87.51 L393.41,88.40 L393.83,89.26 L394.24,90.13 L394.66,90.98 L395.08,91.83 L395.52,92.67 L395.97,93.52 L396.43,94.37 L396.92,95.22 L397.43,96.11 L397.95,97.01 L398.48,97.91 L399.02,98.82 L399.57,99.72 L400.14,100.61 L400.71,101.50 L401.30,102.37 L401.90,103.23 L402.52,104.06 L403.16,104.88 L403.81,105.66 L404.46,106.41 L405.12,107.14 L405.79,107.87 L406.48,108.59 L407.18,109.29 L407.90,109.97 L408.62,110.63 L409.37,111.26 L410.13,111.87 L410.90,112.45 L411.69,112.99 L412.49,113.49 L413.29,113.95 L414.11,114.37 L414.94,114.76 L415.79,115.13 L416.66,115.46 L417.53,115.77 L418.42,116.06 L419.32,116.33 L420.23,116.58 L421.15,116.82 L422.08,117.04 L423.01,117.25 L424.04,117.45 L425.10,117.63 L426.18,117.77 L427.28,117.89 L428.40,117.99 L429.51,118.07 L430.63,118.13 L431.74,118.19 L432.84,118.24 L433.93,118.29 L434.99,118.34 L436.03,118.40 L436.91,118.45 L437.77,118.51 L438.60,118.57 L439.42,118.63 L440.23,118.68 L441.04,118.73 L441.86,118.77 L442.68,118.79 L443.52,118.80 L444.38,118.79 L445.27,118.76 L446.20,118.71 L447.42,118.61 L448.70,118.47 L450.01,118.31 L451.35,118.11 L452.72,117.89 L454.11,117.64 L455.52,117.39 L456.92,117.12 L458.33,116.84 L459.73,116.56 L461.12,116.27 L462.48,116.00 L463.84,115.72 L465.19,115.43 L466.55,115.13 L467.90,114.82 L469.25,114.51 L470.60,114.19 L471.95,113.86 L473.30,113.52 L474.65,113.18 L476.00,112.84 L477.35,112.49 L478.69,112.13 L480.05,111.77 L481.40,111.40 L482.75,111.02 L484.11,110.64 L485.46,110.24 L486.81,109.85 L488.16,109.45 L489.51,109.05 L490.86,108.64 L492.21,108.24 L493.56,107.84 L494.91,107.44 L496.26,107.04 L497.61,106.64 L498.95,106.25 L500.29,105.86 L501.64,105.46 L502.98,105.07 L504.33,104.66 L505.68,104.26 L507.04,103.84 L508.42,103.41 L509.80,102.98 L511.19,102.53 L512.72,102.03 L514.26,101.50 L515.82,100.97 L517.38,100.41 L518.96,99.85 L520.54,99.29 L522.13,98.72 L523.72,98.15 L525.30,97.59 L526.89,97.03 L528.46,96.49 L530.04,95.95 L531.58,95.44 L533.11,94.93 L534.65,94.43 L536.18,93.93 L537.71,93.44 L539.24,92.95 L540.77,92.46 L542.31,91.97 L543.85,91.48 L545.40,90.99 L546.96,90.50 L548.52,90.00 L550.16,89.48 L551.80,88.95 L553.45,88.41 L555.10,87.86 L556.76,87.32 L558.42,86.78 L560.10,86.25 L561.77,85.72 L563.46,85.20 L565.16,84.70 L566.86,84.21 L568.58,83.74 L570.37,83.27 L572.17,82.82 L573.98,82.39 L575.80,81.97 L577.64,81.57 L579.47,81.17 L581.32,80.78 L583.17,80.39 L585.03,80.00 L586.89,79.62 L588.76,79.23 L590.62,78.83 L592.56,78.42 L594.51,78.00 L596.49,77.57 L598.47,77.15 L600.46,76.73 L602.45,76.31 L604.43,75.90 L606.41,75.50 L608.36,75.11 L610.30,74.73 L612.21,74.37 L614.09,74.03 L615.88,73.72 L617.84,73.40 L619.92,73.07 L622.05,72.74 L624.16,72.42 L626.20,72.12 L628.10,71.84 L629.80,71.60 L631.23,71.39 L632.33,71.24 L633.04,71.14 L633.29,71.11" fill="none" stroke="#111" stroke-width="2.0" stroke-dasharray="4.3 3.5"/>
<path d="M378.00,60.25 L378.03,60.25 L378.11,60.27 L378.23,60.29 L378.39,60.32 L378.58,60.36 L378.79,60.40 L379.01,60.46 L379.25,60.51 L379.49,60.57 L379.72,60.63 L379.93,60.70 L380.13,60.77 L380.36,60.86 L380.58,60.95 L380.81,61.04 L381.04,61.14 L381.27,61.25 L381.50,61.37 L381.74,61.49 L381.98,61.62 L382.22,61.76 L382.47,61.90 L382.72,62.06 L382.98,62.23 L383.35,62.50 L383.74,62.80 L384.14,63.12 L384.55,63.47 L384.96,63.83 L385.38,64.21 L385.81,64.60 L386.23,64.99 L386.66,65.38 L387.10,65.77 L387.53,66.15 L387.96,66.51 L388.40,66.88 L388.83,67.23 L389.27,67.59 L389.71,67.94 L390.15,68.29 L390.59,68.65 L391.04,69.00 L391.50,69.36 L391.97,69.73 L392.44,70.11 L392.93,70.50 L393.43,70.90 L394.08,71.42 L394.76,71.97 L395.45,72.55 L396.16,73.13 L396.88,73.73 L397.62,74.34 L398.36,74.94 L399.11,75.54 L399.86,76.13 L400.61,76.71 L401.36,77.26 L402.11,77.79 L402.81,78.27 L403.52,78.76 L404.22,79.23 L404.92,79.70 L405.63,80.15 L406.34,80.60 L407.05,81.03 L407.78,81.46 L408.51,81.87 L409.26,82.26 L410.01,82.64 L410.78,83.01 L411.61,83.37 L412.45,83.72 L413.31,84.05 L414.19,84.36 L415.08,84.66 L415.97,84.95 L416.87,85.22 L417.76,85.49 L418.65,85.74 L419.53,85.98 L420.39,86.22 L421.24,86.45 L421.99,86.65 L422.74,86.84 L423.49,87.03 L424.23,87.20 L424.97,87.37 L425.71,87.53 L426.43,87.68 L427.15,87.83 L427.86,87.97 L428.56,88.09 L429.24,88.22 L429.91,88.33 L430.45,88.42 L430.97,88.49 L431.47,88.56 L431.97,88.62 L432.45,88.68 L432.94,88.73 L433.42,88.78 L433.91,88.83 L434.41,88.88 L434.93,88.93 L435.47,88.99 L436.03,89.06 L436.78,89.16 L437.54,89.27 L438.33,89.39 L439.14,89.52 L439.96,89.64 L440.80,89.77 L441.66,89.90 L442.53,90.02 L443.42,90.14 L444.33,90.24 L445.25,90.34 L446.20,90.42 L447.42,90.50 L448.69,90.58 L450.00,90.63 L451.34,90.68 L452.71,90.72 L454.10,90.75 L455.50,90.76 L456.91,90.77 L458.32,90.77 L459.72,90.77 L461.11,90.75 L462.48,90.73 L463.83,90.70 L465.18,90.66 L466.54,90.60 L467.89,90.54 L469.24,90.47 L470.59,90.39 L471.94,90.30 L473.29,90.22 L474.64,90.13 L475.99,90.05 L477.34,89.97 L478.69,89.90 L480.04,89.83 L481.40,89.76 L482.75,89.69 L484.10,89.63 L485.45,89.56 L486.80,89.49 L488.15,89.42 L489.50,89.36 L490.85,89.29 L492.20,89.21 L493.55,89.14 L494.91,89.06 L496.26,88.98 L497.61,88.91 L498.95,88.83 L500.29,88.75 L501.63,88.67 L502.97,88.58 L504.32,88.50 L505.68,88.41 L507.04,88.32 L508.41,88.22 L509.79,88.12 L511.19,88.02 L512.71,87.90 L514.26,87.78 L515.81,87.65 L517.38,87.51 L518.96,87.37 L520.54,87.23 L522.13,87.09 L523.72,86.94 L525.31,86.79 L526.89,86.65 L528.47,86.50 L530.04,86.35 L531.56,86.20 L533.04,86.06 L534.50,85.91 L535.93,85.76 L537.37,85.62 L538.82,85.47 L540.30,85.31 L541.81,85.16 L543.38,84.99 L545.01,84.83 L546.72,84.65 L548.52,84.47 L551.43,84.18 L554.55,83.86 L557.84,83.53 L561.28,83.18 L564.83,82.82 L568.48,82.45 L572.19,82.08 L575.93,81.70 L579.67,81.34 L583.39,80.98 L587.05,80.63 L590.62,80.29 L594.45,79.95 L598.73,79.57 L603.30,79.17 L608.03,78.76 L612.77,78.36 L617.35,77.97 L621.64,77.62 L625.49,77.29 L628.74,77.03 L631.25,76.82 L632.86,76.69 L633.43,76.64" fill="none" stroke="#111" stroke-width="1.9" stroke-linejoin="round"/>
<circle cx="378.00" cy="57.43" r="1.85" fill="#fff" stroke="#111" stroke-width="1.2"/>
<circle cx="380.35" cy="53.15" r="1.85" fill="#fff" stroke="#111" stroke-width="1.2"/>
<circle cx="384.68" cy="65.47" r="1.85" fill="#fff" stroke="#111" stroke-width="1.2"/>
<circle cx="391.72" cy="76.95" r="1.85" fill="#fff" stroke="#111" stroke-width="1.2"/>
<circle cx="398.62" cy="84.78" r="1.85" fill="#fff" stroke="#111" stroke-width="1.2"/>
<circle cx="409.86" cy="123.93" r="1.85" fill="#fff" stroke="#111" stroke-width="1.2"/>
<circle cx="420.31" cy="123.93" r="1.85" fill="#fff" stroke="#111" stroke-width="1.2"/>
<circle cx="441.57" cy="143.04" r="1.85" fill="#fff" stroke="#111" stroke-width="1.2"/>
<circle cx="463.33" cy="129.57" r="1.85" fill="#fff" stroke="#111" stroke-width="1.2"/>
<circle cx="505.50" cy="102.95" r="1.85" fill="#fff" stroke="#111" stroke-width="1.2"/>
<circle cx="548.52" cy="67.66" r="1.85" fill="#fff" stroke="#111" stroke-width="1.2"/>
<circle cx="591.33" cy="71.94" r="1.85" fill="#fff" stroke="#111" stroke-width="1.2"/>
<circle cx="633.29" cy="53.36" r="1.85" fill="#fff" stroke="#111" stroke-width="1.2"/>
<path d="M378.50,22.73 L380.45,27.02 L376.55,27.02 Z" fill="#fff" stroke="#111" stroke-width="1.2" stroke-linejoin="round"/>
<path d="M380.42,39.44 L382.37,43.73 L378.47,43.73 Z" fill="#fff" stroke="#111" stroke-width="1.2" stroke-linejoin="round"/>
<path d="M384.68,70.13 L386.63,74.42 L382.73,74.42 Z" fill="#fff" stroke="#111" stroke-width="1.2" stroke-linejoin="round"/>
<path d="M391.72,86.62 L393.67,90.91 L389.77,90.91 Z" fill="#fff" stroke="#111" stroke-width="1.2" stroke-linejoin="round"/>
<path d="M398.62,98.84 L400.57,103.13 L396.67,103.13 Z" fill="#fff" stroke="#111" stroke-width="1.2" stroke-linejoin="round"/>
<path d="M409.86,93.62 L411.81,97.91 L407.91,97.91 Z" fill="#fff" stroke="#111" stroke-width="1.2" stroke-linejoin="round"/>
<path d="M420.31,94.56 L422.26,98.85 L418.36,98.85 Z" fill="#fff" stroke="#111" stroke-width="1.2" stroke-linejoin="round"/>
<path d="M441.72,69.61 L443.67,73.90 L439.77,73.90 Z" fill="#fff" stroke="#111" stroke-width="1.2" stroke-linejoin="round"/>
<path d="M463.33,70.96 L465.28,75.25 L461.38,75.25 Z" fill="#fff" stroke="#111" stroke-width="1.2" stroke-linejoin="round"/>
<path d="M505.72,37.24 L507.67,41.53 L503.77,41.53 Z" fill="#fff" stroke="#111" stroke-width="1.2" stroke-linejoin="round"/>
<path d="M547.96,38.50 L549.91,42.79 L546.01,42.79 Z" fill="#fff" stroke="#111" stroke-width="1.2" stroke-linejoin="round"/>
<path d="M591.33,57.71 L593.28,62.00 L589.38,62.00 Z" fill="#fff" stroke="#111" stroke-width="1.2" stroke-linejoin="round"/>
<path d="M633.29,59.38 L635.24,63.67 L631.34,63.67 Z" fill="#fff" stroke="#111" stroke-width="1.2" stroke-linejoin="round"/>
<circle cx="378.00" cy="60.77" r="2.4" fill="#111"/>
<circle cx="380.49" cy="60.77" r="2.4" fill="#111"/>
<circle cx="384.68" cy="61.29" r="2.4" fill="#111"/>
<circle cx="391.72" cy="74.34" r="2.4" fill="#111"/>
<circle cx="398.62" cy="79.56" r="2.4" fill="#111"/>
<circle cx="409.86" cy="66.51" r="2.4" fill="#111"/>
<circle cx="420.31" cy="82.17" r="2.4" fill="#111"/>
<circle cx="441.72" cy="76.95" r="2.4" fill="#111"/>
<circle cx="463.33" cy="76.95" r="2.4" fill="#111"/>
<circle cx="505.50" cy="79.77" r="2.4" fill="#111"/>
<circle cx="548.52" cy="87.39" r="2.4" fill="#111"/>
<circle cx="591.33" cy="76.95" r="2.4" fill="#111"/>
<circle cx="633.29" cy="66.51" r="2.4" fill="#111"/>
<path d="M59.20,219.50 L59.20,377.40 L315.80,377.40" fill="none" stroke="#939393" stroke-width="1.3"/>
<line x1="56.70" y1="377.40" x2="59.20" y2="377.40" stroke="#b0b0b0" stroke-width="0.9"/>
<text x="50.20" y="380.60" text-anchor="end" font-size="12.5" font-family="Liberation Sans, sans-serif" font-weight="bold" stroke="#000" stroke-width="0.12">0</text>
<line x1="56.70" y1="351.08" x2="59.20" y2="351.08" stroke="#b0b0b0" stroke-width="0.9"/>
<text x="50.20" y="354.28" text-anchor="end" font-size="12.5" font-family="Liberation Sans, sans-serif" font-weight="bold" stroke="#000" stroke-width="0.12">25</text>
<line x1="56.70" y1="324.77" x2="59.20" y2="324.77" stroke="#b0b0b0" stroke-width="0.9"/>
<text x="50.20" y="327.97" text-anchor="end" font-size="12.5" font-family="Liberation Sans, sans-serif" font-weight="bold" stroke="#000" stroke-width="0.12">50</text>
<line x1="56.70" y1="298.45" x2="59.20" y2="298.45" stroke="#b0b0b0" stroke-width="0.9"/>
<text x="50.20" y="301.65" text-anchor="end" font-size="12.5" font-family="Liberation Sans, sans-serif" font-weight="bold" stroke="#000" stroke-width="0.12">75</text>
<line x1="56.70" y1="272.13" x2="59.20" y2="272.13" stroke="#b0b0b0" stroke-width="0.9"/>
<text x="50.20" y="275.33" text-anchor="end" font-size="12.5" font-family="Liberation Sans, sans-serif" font-weight="bold" stroke="#000" stroke-width="0.12">100</text>
<line x1="56.70" y1="245.82" x2="59.20" y2="245.82" stroke="#b0b0b0" stroke-width="0.9"/>
<text x="50.20" y="249.02" text-anchor="end" font-size="12.5" font-family="Liberation Sans, sans-serif" font-weight="bold" stroke="#000" stroke-width="0.12">125</text>
<line x1="56.70" y1="219.50" x2="59.20" y2="219.50" stroke="#b0b0b0" stroke-width="0.9"/>
<text x="50.20" y="222.70" text-anchor="end" font-size="12.5" font-family="Liberation Sans, sans-serif" font-weight="bold" stroke="#000" stroke-width="0.12">150</text>
<line x1="59.20" y1="377.40" x2="59.20" y2="379.90" stroke="#b0b0b0" stroke-width="0.9"/>
<text transform="translate(59.90,394.30) scale(1,1.035)" text-anchor="middle" font-size="12.4" font-family="Liberation Sans, sans-serif" font-weight="bold" stroke="#000" stroke-width="0.12">0</text>
<line x1="101.97" y1="377.40" x2="101.97" y2="379.90" stroke="#b0b0b0" stroke-width="0.9"/>
<text transform="translate(102.67,394.30) scale(1,1.035)" text-anchor="middle" font-size="12.4" font-family="Liberation Sans, sans-serif" font-weight="bold" stroke="#000" stroke-width="0.12">60</text>
<line x1="144.73" y1="377.40" x2="144.73" y2="379.90" stroke="#b0b0b0" stroke-width="0.9"/>
<text transform="translate(145.43,394.30) scale(1,1.035)" text-anchor="middle" font-size="12.4" font-family="Liberation Sans, sans-serif" font-weight="bold" stroke="#000" stroke-width="0.12">120</text>
<line x1="187.50" y1="377.40" x2="187.50" y2="379.90" stroke="#b0b0b0" stroke-width="0.9"/>
<text transform="translate(188.20,394.30) scale(1,1.035)" text-anchor="middle" font-size="12.4" font-family="Liberation Sans, sans-serif" font-weight="bold" stroke="#000" stroke-width="0.12">180</text>
<line x1="230.27" y1="377.40" x2="230.27" y2="379.90" stroke="#b0b0b0" stroke-width="0.9"/>
<text transform="translate(230.97,394.30) scale(1,1.035)" text-anchor="middle" font-size="12.4" font-family="Liberation Sans, sans-serif" font-weight="bold" stroke="#000" stroke-width="0.12">240</text>
<line x1="273.03" y1="377.40" x2="273.03" y2="379.90" stroke="#b0b0b0" stroke-width="0.9"/>
<text transform="translate(273.73,394.30) scale(1,1.035)" text-anchor="middle" font-size="12.4" font-family="Liberation Sans, sans-serif" font-weight="bold" stroke="#000" stroke-width="0.12">300</text>
<line x1="315.80" y1="377.40" x2="315.80" y2="379.90" stroke="#b0b0b0" stroke-width="0.9"/>
<text transform="translate(316.50,394.30) scale(1,1.035)" text-anchor="middle" font-size="12.4" font-family="Liberation Sans, sans-serif" font-weight="bold" stroke="#000" stroke-width="0.12">360</text>
<path d="M59.20,239.50 L59.21,239.94 L59.23,241.18 L59.26,243.11 L59.31,245.61 L59.36,248.56 L59.42,251.84 L59.48,255.35 L59.54,258.96 L59.60,262.56 L59.66,266.04 L59.72,269.26 L59.77,272.13 L59.81,274.67 L59.85,277.25 L59.89,279.84 L59.93,282.44 L59.97,285.03 L60.01,287.60 L60.05,290.12 L60.09,292.59 L60.13,294.99 L60.17,297.30 L60.22,299.51 L60.27,301.61 L60.31,303.02 L60.34,304.39 L60.38,305.71 L60.42,306.99 L60.46,308.23 L60.50,309.45 L60.54,310.64 L60.58,311.80 L60.63,312.95 L60.67,314.09 L60.72,315.22 L60.77,316.35 L60.81,317.28 L60.85,318.20 L60.89,319.10 L60.94,319.99 L60.98,320.86 L61.03,321.72 L61.07,322.58 L61.12,323.43 L61.17,324.28 L61.23,325.14 L61.28,326.00 L61.34,326.87 L61.40,327.75 L61.46,328.63 L61.53,329.52 L61.60,330.40 L61.67,331.29 L61.74,332.17 L61.81,333.05 L61.89,333.93 L61.96,334.81 L62.04,335.68 L62.12,336.54 L62.19,337.40 L62.27,338.21 L62.34,339.02 L62.41,339.83 L62.48,340.64 L62.55,341.44 L62.62,342.24 L62.70,343.04 L62.77,343.82 L62.85,344.60 L62.94,345.37 L63.03,346.13 L63.12,346.87 L63.20,347.56 L63.27,348.31 L63.34,349.09 L63.41,349.89 L63.47,350.68 L63.55,351.44 L63.63,352.16 L63.73,352.80 L63.85,353.35 L63.98,353.79 L64.14,354.09 L64.33,354.24 L64.46,354.25 L64.61,354.20 L64.76,354.10 L64.91,353.95 L65.08,353.78 L65.25,353.57 L65.43,353.34 L65.60,353.10 L65.78,352.85 L65.97,352.60 L66.15,352.36 L66.33,352.14 L66.58,351.83 L66.83,351.52 L67.08,351.19 L67.34,350.85 L67.60,350.49 L67.87,350.12 L68.14,349.75 L68.42,349.36 L68.71,348.96 L69.00,348.55 L69.30,348.14 L69.61,347.71 L70.04,347.11 L70.50,346.48 L70.97,345.81 L71.46,345.12 L71.95,344.41 L72.46,343.69 L72.98,342.96 L73.50,342.23 L74.02,341.51 L74.55,340.79 L75.07,340.08 L75.59,339.40 L76.11,338.73 L76.63,338.07 L77.16,337.42 L77.68,336.77 L78.22,336.12 L78.75,335.47 L79.29,334.83 L79.83,334.18 L80.37,333.54 L80.91,332.90 L81.46,332.26 L82.01,331.61 L82.58,330.95 L83.15,330.30 L83.74,329.66 L84.33,329.02 L84.92,328.38 L85.51,327.74 L86.11,327.09 L86.69,326.44 L87.27,325.78 L87.83,325.10 L88.39,324.42 L88.92,323.71 L89.46,322.97 L89.97,322.21 L90.47,321.43 L90.96,320.64 L91.44,319.84 L91.92,319.03 L92.39,318.22 L92.86,317.41 L93.34,316.61 L93.83,315.81 L94.33,315.02 L94.84,314.24 L95.37,313.48 L95.91,312.72 L96.46,311.96 L97.02,311.21 L97.59,310.46 L98.16,309.72 L98.72,308.97 L99.28,308.23 L99.83,307.50 L100.37,306.76 L100.89,306.03 L101.40,305.29 L101.83,304.63 L102.25,303.97 L102.65,303.32 L103.03,302.68 L103.41,302.04 L103.78,301.39 L104.16,300.75 L104.54,300.10 L104.94,299.44 L105.35,298.77 L105.78,298.09 L106.24,297.40 L106.83,296.53 L107.45,295.63 L108.09,294.72 L108.75,293.79 L109.42,292.85 L110.11,291.91 L110.82,290.96 L111.53,290.01 L112.25,289.07 L112.98,288.15 L113.71,287.24 L114.44,286.34 L115.17,285.47 L115.91,284.59 L116.66,283.72 L117.42,282.86 L118.18,282.00 L118.95,281.14 L119.73,280.30 L120.52,279.48 L121.31,278.67 L122.10,277.87 L122.90,277.10 L123.71,276.34 L124.46,275.65 L125.22,274.97 L125.99,274.30 L126.76,273.64 L127.54,272.99 L128.32,272.36 L129.11,271.74 L129.90,271.14 L130.69,270.57 L131.50,270.01 L132.30,269.48 L133.12,268.98 L133.88,268.53 L134.64,268.11 L135.42,267.71 L136.19,267.32 L136.98,266.96 L137.76,266.61 L138.55,266.28 L139.35,265.95 L140.14,265.64 L140.93,265.34 L141.73,265.05 L142.52,264.76 L143.29,264.50 L144.06,264.24 L144.82,264.00 L145.59,263.77 L146.36,263.55 L147.13,263.34 L147.91,263.14 L148.68,262.94 L149.47,262.76 L150.26,262.58 L151.06,262.41 L151.86,262.24 L152.72,262.07 L153.58,261.91 L154.44,261.77 L155.30,261.63 L156.18,261.50 L157.05,261.38 L157.94,261.26 L158.84,261.15 L159.75,261.05 L160.67,260.95 L161.60,260.86 L162.55,260.76 L163.66,260.67 L164.79,260.58 L165.93,260.50 L167.09,260.43 L168.26,260.37 L169.45,260.32 L170.65,260.26 L171.86,260.22 L173.08,260.17 L174.32,260.12 L175.56,260.08 L176.81,260.03 L178.20,259.97 L179.59,259.92 L180.98,259.87 L182.37,259.83 L183.78,259.78 L185.21,259.74 L186.67,259.70 L188.16,259.66 L189.70,259.62 L191.28,259.58 L192.92,259.54 L194.63,259.50 L197.12,259.44 L199.68,259.38 L202.32,259.32 L205.03,259.26 L207.83,259.21 L210.72,259.15 L213.71,259.09 L216.80,259.04 L219.99,258.99 L223.30,258.95 L226.72,258.91 L230.27,258.87 L236.65,258.82 L244.37,258.79 L253.07,258.76 L262.38,258.75 L271.95,258.74 L281.42,258.74 L290.42,258.74 L298.59,258.74 L305.58,258.75 L311.02,258.76 L314.54,258.76 L315.80,258.76" fill="none" stroke="#111" stroke-width="1.7" stroke-linecap="round" stroke-dasharray="0.01 3.4"/>
<path d="M59.20,239.50 L59.21,239.94 L59.23,241.18 L59.26,243.11 L59.31,245.61 L59.36,248.56 L59.42,251.84 L59.48,255.35 L59.54,258.96 L59.60,262.56 L59.66,266.04 L59.72,269.26 L59.77,272.13 L59.81,274.67 L59.85,277.25 L59.89,279.84 L59.93,282.44 L59.97,285.03 L60.01,287.60 L60.05,290.12 L60.09,292.59 L60.13,294.99 L60.17,297.30 L60.22,299.51 L60.27,301.61 L60.31,303.02 L60.34,304.39 L60.38,305.71 L60.42,306.99 L60.46,308.23 L60.50,309.45 L60.54,310.64 L60.58,311.80 L60.63,312.95 L60.67,314.09 L60.72,315.22 L60.77,316.35 L60.81,317.28 L60.85,318.20 L60.89,319.10 L60.94,319.99 L60.98,320.86 L61.03,321.72 L61.07,322.58 L61.12,323.43 L61.17,324.28 L61.23,325.14 L61.28,326.00 L61.34,326.87 L61.40,327.75 L61.46,328.63 L61.53,329.50 L61.60,330.38 L61.67,331.26 L61.74,332.14 L61.82,333.01 L61.89,333.89 L61.97,334.77 L62.04,335.64 L62.12,336.52 L62.19,337.40 L62.27,338.28 L62.34,339.18 L62.42,340.07 L62.50,340.98 L62.57,341.88 L62.65,342.78 L62.73,343.67 L62.81,344.56 L62.89,345.43 L62.96,346.28 L63.04,347.11 L63.12,347.93 L63.18,348.59 L63.25,349.24 L63.31,349.89 L63.37,350.53 L63.43,351.15 L63.49,351.77 L63.55,352.38 L63.61,352.98 L63.68,353.57 L63.75,354.15 L63.82,354.73 L63.90,355.29 L63.97,355.77 L64.03,356.25 L64.09,356.72 L64.14,357.18 L64.20,357.64 L64.26,358.10 L64.33,358.54 L64.41,358.97 L64.51,359.39 L64.62,359.80 L64.75,360.19 L64.90,360.56 L65.05,360.88 L65.21,361.21 L65.39,361.54 L65.58,361.87 L65.77,362.20 L65.98,362.51 L66.19,362.79 L66.41,363.04 L66.63,363.26 L66.86,363.43 L67.09,363.55 L67.33,363.61 L67.57,363.60 L67.82,363.53 L68.08,363.40 L68.34,363.22 L68.61,363.01 L68.88,362.76 L69.16,362.48 L69.44,362.20 L69.72,361.91 L70.01,361.62 L70.31,361.34 L70.60,361.08 L70.98,360.77 L71.37,360.45 L71.76,360.12 L72.15,359.78 L72.55,359.43 L72.96,359.07 L73.38,358.71 L73.80,358.34 L74.24,357.96 L74.68,357.57 L75.13,357.17 L75.59,356.77 L76.21,356.23 L76.85,355.68 L77.51,355.11 L78.19,354.53 L78.89,353.93 L79.59,353.32 L80.31,352.70 L81.03,352.08 L81.75,351.44 L82.48,350.80 L83.21,350.15 L83.93,349.50 L84.74,348.76 L85.56,348.00 L86.38,347.21 L87.21,346.41 L88.05,345.60 L88.89,344.79 L89.74,343.98 L90.58,343.17 L91.43,342.38 L92.28,341.60 L93.13,340.86 L93.98,340.14 L94.78,339.49 L95.57,338.86 L96.36,338.24 L97.16,337.63 L97.95,337.03 L98.75,336.45 L99.55,335.87 L100.36,335.30 L101.16,334.74 L101.97,334.18 L102.79,333.63 L103.61,333.08 L104.42,332.55 L105.24,332.02 L106.07,331.50 L106.90,330.99 L107.74,330.49 L108.58,329.99 L109.41,329.49 L110.25,329.01 L111.08,328.52 L111.90,328.04 L112.71,327.56 L113.51,327.08 L114.24,326.64 L114.95,326.21 L115.65,325.79 L116.33,325.36 L117.02,324.94 L117.70,324.53 L118.39,324.11 L119.09,323.70 L119.80,323.28 L120.53,322.87 L121.28,322.45 L122.07,322.03 L123.05,321.52 L124.08,321.00 L125.14,320.48 L126.23,319.96 L127.35,319.43 L128.47,318.91 L129.60,318.39 L130.73,317.88 L131.84,317.37 L132.94,316.88 L134.01,316.39 L135.04,315.92 L135.92,315.53 L136.78,315.15 L137.63,314.78 L138.46,314.42 L139.29,314.06 L140.12,313.71 L140.93,313.36 L141.75,313.01 L142.56,312.65 L143.38,312.28 L144.20,311.90 L145.02,311.50 L145.86,311.09 L146.70,310.66 L147.54,310.22 L148.38,309.77 L149.22,309.32 L150.05,308.86 L150.89,308.40 L151.72,307.94 L152.56,307.48 L153.40,307.03 L154.23,306.58 L155.07,306.13 L155.90,305.70 L156.72,305.26 L157.54,304.83 L158.36,304.39 L159.18,303.96 L160.00,303.52 L160.82,303.09 L161.65,302.67 L162.48,302.24 L163.33,301.82 L164.18,301.39 L165.05,300.98 L165.99,300.53 L166.93,300.09 L167.89,299.65 L168.85,299.21 L169.83,298.78 L170.81,298.35 L171.79,297.92 L172.79,297.49 L173.78,297.07 L174.79,296.65 L175.80,296.23 L176.81,295.82 L177.88,295.39 L178.96,294.96 L180.06,294.53 L181.16,294.11 L182.27,293.69 L183.39,293.27 L184.50,292.86 L185.62,292.45 L186.73,292.05 L187.83,291.65 L188.92,291.26 L189.99,290.87 L190.99,290.52 L191.98,290.17 L192.96,289.83 L193.93,289.50 L194.90,289.17 L195.87,288.84 L196.83,288.52 L197.80,288.19 L198.78,287.87 L199.76,287.54 L200.75,287.21 L201.76,286.87 L202.83,286.51 L203.92,286.14 L205.01,285.78 L206.10,285.41 L207.21,285.04 L208.32,284.67 L209.43,284.30 L210.54,283.93 L211.66,283.56 L212.78,283.19 L213.90,282.82 L215.01,282.45 L216.14,282.07 L217.26,281.69 L218.36,281.31 L219.46,280.93 L220.57,280.55 L221.68,280.17 L222.80,279.79 L223.95,279.41 L225.12,279.03 L226.32,278.66 L227.56,278.29 L228.84,277.92 L230.54,277.46 L232.31,277.00 L234.15,276.54 L236.04,276.09 L237.97,275.64 L239.93,275.19 L241.91,274.75 L243.89,274.31 L245.87,273.89 L247.83,273.47 L249.76,273.06 L251.65,272.66 L253.43,272.29 L255.19,271.92 L256.95,271.56 L258.70,271.20 L260.44,270.85 L262.18,270.51 L263.92,270.18 L265.66,269.85 L267.41,269.54 L269.15,269.23 L270.91,268.94 L272.68,268.66 L274.47,268.39 L276.28,268.13 L278.09,267.89 L279.91,267.65 L281.73,267.43 L283.56,267.21 L285.38,267.00 L287.20,266.80 L289.01,266.60 L290.82,266.41 L292.63,266.22 L294.42,266.03 L296.27,265.84 L298.33,265.63 L300.53,265.42 L302.79,265.21 L305.05,265.00 L307.24,264.80 L309.28,264.62 L311.11,264.46 L312.65,264.33 L313.84,264.22 L314.60,264.16 L314.87,264.13" fill="none" stroke="#111" stroke-width="2.1" stroke-dasharray="6.3 5.3"/>
<path d="M59.20,239.50 L59.21,239.94 L59.23,241.18 L59.26,243.11 L59.31,245.61 L59.36,248.56 L59.42,251.84 L59.48,255.35 L59.54,258.96 L59.60,262.56 L59.66,266.04 L59.72,269.26 L59.77,272.13 L59.81,274.67 L59.85,277.25 L59.89,279.84 L59.93,282.44 L59.97,285.03 L60.01,287.60 L60.05,290.12 L60.09,292.59 L60.13,294.99 L60.17,297.30 L60.22,299.51 L60.27,301.61 L60.31,303.02 L60.34,304.39 L60.38,305.71 L60.42,306.99 L60.46,308.23 L60.50,309.45 L60.54,310.64 L60.58,311.80 L60.63,312.95 L60.67,314.09 L60.72,315.22 L60.77,316.35 L60.81,317.28 L60.85,318.19 L60.89,319.07 L60.92,319.94 L60.96,320.79 L61.00,321.64 L61.05,322.49 L61.10,323.34 L61.15,324.20 L61.20,325.07 L61.27,325.96 L61.34,326.87 L61.42,327.95 L61.50,329.08 L61.58,330.25 L61.66,331.45 L61.74,332.66 L61.84,333.86 L61.94,335.05 L62.06,336.20 L62.20,337.31 L62.37,338.37 L62.55,339.35 L62.76,340.24 L62.92,340.78 L63.08,341.31 L63.26,341.81 L63.44,342.30 L63.63,342.76 L63.82,343.21 L64.03,343.64 L64.24,344.05 L64.45,344.44 L64.67,344.81 L64.89,345.17 L65.12,345.50 L65.28,345.75 L65.46,346.01 L65.63,346.26 L65.81,346.52 L65.98,346.76 L66.17,346.99 L66.35,347.19 L66.54,347.37 L66.73,347.52 L66.93,347.63 L67.12,347.70 L67.33,347.71 L67.61,347.65 L67.90,347.48 L68.19,347.23 L68.49,346.90 L68.80,346.51 L69.11,346.07 L69.43,345.60 L69.75,345.11 L70.08,344.61 L70.42,344.11 L70.76,343.63 L71.10,343.19 L71.55,342.63 L72.02,342.06 L72.49,341.47 L72.97,340.86 L73.46,340.24 L73.96,339.61 L74.47,338.97 L74.99,338.33 L75.51,337.68 L76.03,337.02 L76.56,336.37 L77.09,335.71 L77.70,334.97 L78.34,334.21 L79.00,333.44 L79.67,332.65 L80.35,331.85 L81.03,331.06 L81.70,330.27 L82.36,329.49 L83.00,328.72 L83.61,327.97 L84.19,327.25 L84.72,326.56 L85.08,326.06 L85.41,325.59 L85.73,325.14 L86.02,324.69 L86.30,324.26 L86.58,323.82 L86.85,323.39 L87.14,322.96 L87.43,322.51 L87.74,322.05 L88.07,321.58 L88.42,321.08 L88.94,320.39 L89.48,319.66 L90.05,318.92 L90.64,318.15 L91.25,317.37 L91.87,316.58 L92.51,315.78 L93.16,314.98 L93.83,314.18 L94.49,313.38 L95.16,312.59 L95.84,311.82 L96.56,311.01 L97.31,310.20 L98.07,309.39 L98.84,308.59 L99.63,307.78 L100.42,306.98 L101.22,306.18 L102.02,305.37 L102.81,304.57 L103.61,303.76 L104.40,302.95 L105.17,302.13 L105.95,301.31 L106.72,300.47 L107.49,299.63 L108.26,298.79 L109.03,297.94 L109.80,297.10 L110.57,296.26 L111.34,295.42 L112.11,294.58 L112.88,293.76 L113.66,292.94 L114.44,292.13 L115.20,291.36 L115.97,290.59 L116.73,289.82 L117.50,289.06 L118.26,288.31 L119.03,287.56 L119.81,286.81 L120.58,286.08 L121.36,285.34 L122.14,284.62 L122.92,283.90 L123.71,283.19 L124.48,282.49 L125.25,281.80 L126.02,281.10 L126.79,280.41 L127.57,279.73 L128.35,279.05 L129.13,278.39 L129.92,277.73 L130.71,277.09 L131.51,276.47 L132.31,275.87 L133.12,275.29 L133.88,274.77 L134.65,274.26 L135.43,273.77 L136.21,273.30 L136.99,272.84 L137.78,272.39 L138.57,271.95 L139.36,271.52 L140.15,271.09 L140.94,270.66 L141.73,270.24 L142.52,269.82 L143.30,269.40 L144.07,268.99 L144.84,268.59 L145.62,268.19 L146.39,267.80 L147.17,267.41 L147.95,267.02 L148.73,266.64 L149.51,266.27 L150.29,265.90 L151.08,265.54 L151.86,265.19 L152.63,264.85 L153.40,264.53 L154.16,264.22 L154.92,263.92 L155.68,263.62 L156.45,263.33 L157.22,263.03 L158.01,262.73 L158.80,262.42 L159.60,262.10 L160.43,261.76 L161.27,261.40 L162.33,260.92 L163.41,260.41 L164.51,259.86 L165.64,259.30 L166.78,258.73 L167.93,258.14 L169.10,257.56 L170.28,256.98 L171.46,256.41 L172.65,255.87 L173.84,255.35 L175.03,254.87 L176.25,254.41 L177.50,253.96 L178.77,253.53 L180.06,253.11 L181.35,252.70 L182.65,252.31 L183.93,251.93 L185.20,251.57 L186.45,251.21 L187.67,250.88 L188.86,250.55 L189.99,250.24 L190.86,250.00 L191.67,249.78 L192.46,249.58 L193.22,249.38 L193.96,249.20 L194.70,249.02 L195.45,248.84 L196.21,248.66 L197.00,248.49 L197.83,248.30 L198.69,248.12 L199.62,247.92 L201.07,247.62 L202.65,247.31 L204.34,246.98 L206.10,246.65 L207.92,246.31 L209.76,245.98 L211.61,245.65 L213.43,245.33 L215.21,245.02 L216.91,244.74 L218.52,244.47 L220.00,244.24 L220.96,244.09 L221.83,243.95 L222.64,243.83 L223.42,243.71 L224.16,243.60 L224.91,243.50 L225.66,243.40 L226.45,243.30 L227.28,243.20 L228.19,243.09 L229.17,242.98 L230.27,242.87 L232.80,242.62 L235.70,242.34 L238.89,242.06 L242.35,241.76 L246.00,241.47 L249.81,241.17 L253.72,240.88 L257.69,240.60 L261.65,240.34 L265.56,240.10 L269.37,239.89 L273.03,239.71 L276.87,239.56 L281.15,239.43 L285.73,239.32 L290.45,239.23 L295.18,239.16 L299.76,239.10 L304.04,239.05 L307.88,239.02 L311.12,239.00 L313.62,238.98 L315.23,238.98 L315.80,238.97" fill="none" stroke="#111" stroke-width="2.0" stroke-linejoin="round"/>
<circle cx="59.20" cy="340.56" r="2.3" fill="#fff" stroke="#111" stroke-width="1.3"/>
<circle cx="62.76" cy="343.71" r="2.3" fill="#fff" stroke="#111" stroke-width="1.3"/>
<circle cx="78.59" cy="344.98" r="2.3" fill="#fff" stroke="#111" stroke-width="1.3"/>
<circle cx="90.70" cy="347.71" r="2.3" fill="#fff" stroke="#111" stroke-width="1.3"/>
<circle cx="100.40" cy="339.40" r="2.3" fill="#fff" stroke="#111" stroke-width="1.3"/>
<circle cx="122.99" cy="318.24" r="2.3" fill="#fff" stroke="#111" stroke-width="1.3"/>
<circle cx="143.81" cy="314.66" r="2.3" fill="#fff" stroke="#111" stroke-width="1.3"/>
<circle cx="187.43" cy="297.29" r="2.3" fill="#fff" stroke="#111" stroke-width="1.3"/>
<circle cx="228.84" cy="275.71" r="2.3" fill="#fff" stroke="#111" stroke-width="1.3"/>
<circle cx="272.68" cy="262.24" r="2.3" fill="#fff" stroke="#111" stroke-width="1.3"/>
<circle cx="314.87" cy="262.24" r="2.3" fill="#fff" stroke="#111" stroke-width="1.3"/>
<path d="M59.20,242.75 L61.65,248.14 L56.75,248.14 Z" fill="#fff" stroke="#111" stroke-width="1.3" stroke-linejoin="round"/>
<path d="M72.60,328.86 L75.05,334.25 L70.15,334.25 Z" fill="#fff" stroke="#111" stroke-width="1.3" stroke-linejoin="round"/>
<path d="M78.59,331.81 L81.04,337.20 L76.14,337.20 Z" fill="#fff" stroke="#111" stroke-width="1.3" stroke-linejoin="round"/>
<path d="M90.28,326.44 L92.73,331.83 L87.83,331.83 Z" fill="#fff" stroke="#111" stroke-width="1.3" stroke-linejoin="round"/>
<path d="M101.47,308.34 L103.92,313.73 L99.02,313.73 Z" fill="#fff" stroke="#111" stroke-width="1.3" stroke-linejoin="round"/>
<path d="M122.99,275.60 L125.44,280.99 L120.54,280.99 Z" fill="#fff" stroke="#111" stroke-width="1.3" stroke-linejoin="round"/>
<path d="M143.81,275.60 L146.26,280.99 L141.36,280.99 Z" fill="#fff" stroke="#111" stroke-width="1.3" stroke-linejoin="round"/>
<path d="M187.43,256.65 L189.88,262.04 L184.98,262.04 Z" fill="#fff" stroke="#111" stroke-width="1.3" stroke-linejoin="round"/>
<path d="M228.84,246.65 L231.29,252.04 L226.39,252.04 Z" fill="#fff" stroke="#111" stroke-width="1.3" stroke-linejoin="round"/>
<path d="M272.68,246.65 L275.13,252.04 L270.23,252.04 Z" fill="#fff" stroke="#111" stroke-width="1.3" stroke-linejoin="round"/>
<path d="M314.87,255.28 L317.32,260.67 L312.42,260.67 Z" fill="#fff" stroke="#111" stroke-width="1.3" stroke-linejoin="round"/>
<circle cx="59.20" cy="247.40" r="2.6" fill="#111"/>
<circle cx="59.91" cy="317.50" r="2.6" fill="#111"/>
<circle cx="59.91" cy="329.61" r="2.6" fill="#111"/>
<circle cx="59.91" cy="341.71" r="2.6" fill="#111"/>
<circle cx="63.48" cy="345.50" r="2.6" fill="#111"/>
<circle cx="72.60" cy="338.66" r="2.6" fill="#111"/>
<circle cx="79.37" cy="318.35" r="2.6" fill="#111"/>
<circle cx="90.28" cy="320.56" r="2.6" fill="#111"/>
<circle cx="101.47" cy="291.82" r="2.6" fill="#111"/>
<circle cx="122.99" cy="302.45" r="2.6" fill="#111"/>
<circle cx="143.81" cy="243.92" r="2.6" fill="#111"/>
<circle cx="187.43" cy="267.61" r="2.6" fill="#111"/>
<circle cx="228.84" cy="238.13" r="2.6" fill="#111"/>
<circle cx="272.68" cy="232.76" r="2.6" fill="#111"/>
<circle cx="314.87" cy="230.45" r="2.6" fill="#111"/>
<circle cx="314.87" cy="262.87" r="2.6" fill="#111"/>
<path d="M373.60,218.50 L373.60,375.90 L628.60,375.90" fill="none" stroke="#939393" stroke-width="1.3"/>
<line x1="371.10" y1="375.90" x2="373.60" y2="375.90" stroke="#b0b0b0" stroke-width="0.9"/>
<text x="362.80" y="380.10" text-anchor="end" font-size="12.5" font-family="Liberation Sans, sans-serif" font-weight="bold" stroke="#000" stroke-width="0.12">0</text>
<line x1="371.10" y1="349.67" x2="373.60" y2="349.67" stroke="#b0b0b0" stroke-width="0.9"/>
<text x="362.80" y="353.87" text-anchor="end" font-size="12.5" font-family="Liberation Sans, sans-serif" font-weight="bold" stroke="#000" stroke-width="0.12">25</text>
<line x1="371.10" y1="323.43" x2="373.60" y2="323.43" stroke="#b0b0b0" stroke-width="0.9"/>
<text x="362.80" y="327.63" text-anchor="end" font-size="12.5" font-family="Liberation Sans, sans-serif" font-weight="bold" stroke="#000" stroke-width="0.12">50</text>
<line x1="371.10" y1="297.20" x2="373.60" y2="297.20" stroke="#b0b0b0" stroke-width="0.9"/>
<text x="362.80" y="301.40" text-anchor="end" font-size="12.5" font-family="Liberation Sans, sans-serif" font-weight="bold" stroke="#000" stroke-width="0.12">75</text>
<line x1="371.10" y1="270.97" x2="373.60" y2="270.97" stroke="#b0b0b0" stroke-width="0.9"/>
<text x="362.80" y="275.17" text-anchor="end" font-size="12.5" font-family="Liberation Sans, sans-serif" font-weight="bold" stroke="#000" stroke-width="0.12">100</text>
<line x1="371.10" y1="244.73" x2="373.60" y2="244.73" stroke="#b0b0b0" stroke-width="0.9"/>
<text x="362.80" y="248.93" text-anchor="end" font-size="12.5" font-family="Liberation Sans, sans-serif" font-weight="bold" stroke="#000" stroke-width="0.12">125</text>
<line x1="371.10" y1="218.50" x2="373.60" y2="218.50" stroke="#b0b0b0" stroke-width="0.9"/>
<text x="362.80" y="222.70" text-anchor="end" font-size="12.5" font-family="Liberation Sans, sans-serif" font-weight="bold" stroke="#000" stroke-width="0.12">150</text>
<line x1="373.60" y1="375.90" x2="373.60" y2="378.40" stroke="#b0b0b0" stroke-width="0.9"/>
<text transform="translate(372.70,394.30) scale(1,1.035)" text-anchor="middle" font-size="12.4" font-family="Liberation Sans, sans-serif" font-weight="bold" stroke="#000" stroke-width="0.12">0</text>
<line x1="416.10" y1="375.90" x2="416.10" y2="378.40" stroke="#b0b0b0" stroke-width="0.9"/>
<text transform="translate(415.20,394.30) scale(1,1.035)" text-anchor="middle" font-size="12.4" font-family="Liberation Sans, sans-serif" font-weight="bold" stroke="#000" stroke-width="0.12">60</text>
<line x1="458.60" y1="375.90" x2="458.60" y2="378.40" stroke="#b0b0b0" stroke-width="0.9"/>
<text transform="translate(457.70,394.30) scale(1,1.035)" text-anchor="middle" font-size="12.4" font-family="Liberation Sans, sans-serif" font-weight="bold" stroke="#000" stroke-width="0.12">120</text>
<line x1="501.10" y1="375.90" x2="501.10" y2="378.40" stroke="#b0b0b0" stroke-width="0.9"/>
<text transform="translate(500.20,394.30) scale(1,1.035)" text-anchor="middle" font-size="12.4" font-family="Liberation Sans, sans-serif" font-weight="bold" stroke="#000" stroke-width="0.12">180</text>
<line x1="543.60" y1="375.90" x2="543.60" y2="378.40" stroke="#b0b0b0" stroke-width="0.9"/>
<text transform="translate(542.70,394.30) scale(1,1.035)" text-anchor="middle" font-size="12.4" font-family="Liberation Sans, sans-serif" font-weight="bold" stroke="#000" stroke-width="0.12">240</text>
<line x1="586.10" y1="375.90" x2="586.10" y2="378.40" stroke="#b0b0b0" stroke-width="0.9"/>
<text transform="translate(585.20,394.30) scale(1,1.035)" text-anchor="middle" font-size="12.4" font-family="Liberation Sans, sans-serif" font-weight="bold" stroke="#000" stroke-width="0.12">300</text>
<line x1="628.60" y1="375.90" x2="628.60" y2="378.40" stroke="#b0b0b0" stroke-width="0.9"/>
<text transform="translate(627.70,394.30) scale(1,1.035)" text-anchor="middle" font-size="12.4" font-family="Liberation Sans, sans-serif" font-weight="bold" stroke="#000" stroke-width="0.12">360</text>
<path d="M373.60,238.44 L373.61,238.88 L373.63,240.11 L373.66,242.03 L373.71,244.52 L373.76,247.46 L373.82,250.74 L373.88,254.24 L373.94,257.84 L374.00,261.43 L374.06,264.89 L374.12,268.11 L374.17,270.97 L374.21,273.50 L374.25,276.07 L374.29,278.65 L374.33,281.24 L374.36,283.83 L374.40,286.38 L374.44,288.90 L374.48,291.36 L374.52,293.75 L374.57,296.05 L374.61,298.26 L374.66,300.35 L374.70,301.76 L374.74,303.12 L374.77,304.43 L374.81,305.71 L374.85,306.95 L374.89,308.16 L374.93,309.35 L374.97,310.51 L375.02,311.66 L375.06,312.79 L375.11,313.92 L375.16,315.04 L375.20,315.97 L375.24,316.89 L375.28,317.79 L375.33,318.67 L375.37,319.54 L375.42,320.40 L375.46,321.25 L375.51,322.10 L375.56,322.95 L375.61,323.80 L375.67,324.66 L375.73,325.53 L375.79,326.41 L375.85,327.29 L375.91,328.17 L375.98,329.05 L376.05,329.93 L376.12,330.81 L376.20,331.69 L376.27,332.57 L376.35,333.44 L376.42,334.31 L376.50,335.17 L376.58,336.03 L376.65,336.83 L376.72,337.64 L376.79,338.45 L376.86,339.26 L376.93,340.06 L377.00,340.86 L377.07,341.65 L377.15,342.43 L377.23,343.21 L377.31,343.97 L377.40,344.73 L377.50,345.47 L377.58,346.16 L377.65,346.90 L377.71,347.68 L377.78,348.48 L377.85,349.27 L377.92,350.03 L378.01,350.74 L378.10,351.38 L378.22,351.93 L378.35,352.37 L378.51,352.67 L378.70,352.81 L378.83,352.82 L378.97,352.77 L379.12,352.67 L379.28,352.53 L379.44,352.35 L379.61,352.14 L379.79,351.92 L379.96,351.67 L380.14,351.43 L380.32,351.18 L380.50,350.94 L380.68,350.72 L380.93,350.41 L381.18,350.10 L381.43,349.77 L381.69,349.43 L381.95,349.08 L382.22,348.71 L382.49,348.33 L382.76,347.95 L383.05,347.55 L383.34,347.15 L383.64,346.73 L383.94,346.31 L384.38,345.71 L384.83,345.07 L385.30,344.41 L385.78,343.72 L386.27,343.02 L386.78,342.30 L387.29,341.57 L387.81,340.85 L388.33,340.12 L388.85,339.40 L389.37,338.70 L389.89,338.02 L390.41,337.36 L390.92,336.70 L391.44,336.04 L391.97,335.39 L392.50,334.75 L393.03,334.10 L393.56,333.46 L394.10,332.82 L394.64,332.18 L395.18,331.54 L395.72,330.90 L396.27,330.25 L396.83,329.60 L397.40,328.95 L397.99,328.31 L398.57,327.67 L399.16,327.04 L399.75,326.39 L400.34,325.75 L400.92,325.10 L401.49,324.44 L402.05,323.77 L402.60,323.08 L403.14,322.38 L403.67,321.64 L404.18,320.88 L404.68,320.11 L405.16,319.32 L405.64,318.52 L406.11,317.72 L406.58,316.91 L407.05,316.10 L407.53,315.30 L408.01,314.50 L408.51,313.71 L409.02,312.94 L409.54,312.18 L410.08,311.42 L410.63,310.67 L411.19,309.92 L411.75,309.17 L412.32,308.43 L412.88,307.69 L413.43,306.95 L413.98,306.22 L414.51,305.48 L415.03,304.75 L415.53,304.02 L415.97,303.36 L416.38,302.71 L416.77,302.06 L417.16,301.42 L417.53,300.78 L417.90,300.13 L418.28,299.49 L418.66,298.84 L419.05,298.19 L419.46,297.52 L419.89,296.84 L420.35,296.15 L420.94,295.28 L421.55,294.39 L422.18,293.48 L422.84,292.56 L423.51,291.62 L424.20,290.68 L424.90,289.73 L425.61,288.79 L426.32,287.85 L427.05,286.93 L427.77,286.02 L428.50,285.13 L429.22,284.26 L429.96,283.39 L430.70,282.52 L431.45,281.65 L432.21,280.80 L432.98,279.95 L433.75,279.11 L434.53,278.29 L435.32,277.48 L436.11,276.69 L436.91,275.91 L437.70,275.16 L438.46,274.48 L439.21,273.79 L439.97,273.12 L440.74,272.46 L441.51,271.82 L442.29,271.19 L443.07,270.57 L443.86,269.98 L444.65,269.40 L445.44,268.85 L446.25,268.32 L447.05,267.82 L447.81,267.38 L448.57,266.95 L449.34,266.55 L450.11,266.17 L450.89,265.81 L451.67,265.46 L452.46,265.13 L453.25,264.81 L454.04,264.50 L454.82,264.20 L455.61,263.91 L456.40,263.62 L457.17,263.35 L457.93,263.10 L458.69,262.86 L459.45,262.63 L460.22,262.41 L460.98,262.20 L461.75,262.00 L462.53,261.80 L463.31,261.62 L464.09,261.44 L464.88,261.27 L465.68,261.10 L466.53,260.94 L467.39,260.78 L468.24,260.63 L469.10,260.49 L469.97,260.36 L470.84,260.24 L471.73,260.13 L472.62,260.02 L473.52,259.92 L474.44,259.82 L475.37,259.73 L476.31,259.63 L477.41,259.54 L478.53,259.45 L479.67,259.37 L480.82,259.30 L481.98,259.24 L483.16,259.19 L484.35,259.14 L485.56,259.09 L486.77,259.04 L488.00,259.00 L489.23,258.95 L490.48,258.90 L491.86,258.84 L493.24,258.79 L494.62,258.74 L496.01,258.70 L497.41,258.66 L498.83,258.61 L500.27,258.57 L501.76,258.53 L503.28,258.49 L504.86,258.45 L506.49,258.42 L508.18,258.37 L510.66,258.32 L513.21,258.26 L515.82,258.20 L518.52,258.14 L521.31,258.08 L524.18,258.02 L527.15,257.97 L530.21,257.92 L533.39,257.87 L536.67,257.82 L540.08,257.78 L543.60,257.75 L549.94,257.70 L557.61,257.66 L566.26,257.64 L575.52,257.62 L585.03,257.62 L594.43,257.61 L603.38,257.62 L611.50,257.62 L618.44,257.63 L623.85,257.63 L627.35,257.64 L628.60,257.64" fill="none" stroke="#111" stroke-width="1.7" stroke-linecap="round" stroke-dasharray="0.01 3.4"/>
<path d="M373.60,238.44 L373.61,238.88 L373.63,240.11 L373.66,242.03 L373.71,244.52 L373.76,247.46 L373.82,250.74 L373.88,254.24 L373.94,257.84 L374.00,261.43 L374.06,264.89 L374.12,268.11 L374.17,270.97 L374.21,273.50 L374.25,276.07 L374.29,278.65 L374.33,281.24 L374.36,283.83 L374.40,286.38 L374.44,288.90 L374.48,291.36 L374.52,293.75 L374.57,296.05 L374.61,298.26 L374.66,300.35 L374.70,301.76 L374.74,303.12 L374.77,304.43 L374.81,305.71 L374.85,306.95 L374.89,308.16 L374.93,309.35 L374.97,310.51 L375.02,311.66 L375.06,312.79 L375.11,313.92 L375.16,315.04 L375.20,315.97 L375.24,316.89 L375.28,317.79 L375.33,318.67 L375.37,319.54 L375.42,320.40 L375.46,321.25 L375.51,322.10 L375.56,322.95 L375.61,323.80 L375.67,324.66 L375.73,325.53 L375.79,326.41 L375.85,327.28 L375.92,328.16 L375.98,329.03 L376.06,329.91 L376.13,330.78 L376.20,331.65 L376.28,332.53 L376.35,333.40 L376.43,334.28 L376.50,335.15 L376.58,336.03 L376.65,336.91 L376.72,337.80 L376.80,338.69 L376.88,339.59 L376.95,340.49 L377.03,341.39 L377.11,342.28 L377.19,343.16 L377.26,344.03 L377.34,344.88 L377.42,345.71 L377.50,346.52 L377.56,347.18 L377.62,347.83 L377.68,348.48 L377.74,349.11 L377.80,349.74 L377.86,350.35 L377.92,350.96 L377.98,351.56 L378.05,352.15 L378.12,352.73 L378.20,353.30 L378.27,353.86 L378.34,354.34 L378.40,354.81 L378.46,355.28 L378.51,355.75 L378.57,356.21 L378.63,356.66 L378.70,357.10 L378.78,357.53 L378.87,357.95 L378.98,358.35 L379.11,358.74 L379.27,359.11 L379.41,359.43 L379.58,359.76 L379.75,360.09 L379.94,360.42 L380.13,360.75 L380.33,361.05 L380.55,361.34 L380.76,361.59 L380.99,361.80 L381.21,361.97 L381.44,362.09 L381.67,362.15 L381.92,362.15 L382.17,362.08 L382.42,361.95 L382.68,361.77 L382.95,361.55 L383.22,361.30 L383.49,361.03 L383.77,360.75 L384.06,360.45 L384.35,360.17 L384.64,359.89 L384.93,359.64 L385.31,359.32 L385.69,359.00 L386.08,358.67 L386.47,358.34 L386.87,357.99 L387.28,357.63 L387.69,357.27 L388.11,356.90 L388.54,356.52 L388.98,356.13 L389.43,355.73 L389.89,355.33 L390.51,354.80 L391.14,354.25 L391.80,353.68 L392.47,353.10 L393.16,352.50 L393.86,351.90 L394.57,351.28 L395.29,350.66 L396.01,350.02 L396.74,349.38 L397.46,348.74 L398.18,348.09 L398.98,347.36 L399.79,346.59 L400.61,345.81 L401.44,345.01 L402.27,344.20 L403.11,343.39 L403.94,342.58 L404.79,341.78 L405.63,340.99 L406.48,340.22 L407.32,339.47 L408.17,338.75 L408.95,338.11 L409.74,337.48 L410.53,336.86 L411.32,336.25 L412.11,335.66 L412.91,335.08 L413.70,334.50 L414.50,333.94 L415.30,333.37 L416.11,332.82 L416.92,332.27 L417.73,331.72 L418.54,331.19 L419.35,330.67 L420.18,330.15 L421.01,329.64 L421.84,329.14 L422.67,328.64 L423.50,328.15 L424.33,327.66 L425.15,327.18 L425.97,326.70 L426.78,326.22 L427.58,325.74 L428.30,325.31 L429.00,324.87 L429.69,324.45 L430.38,324.03 L431.06,323.61 L431.74,323.19 L432.42,322.78 L433.11,322.37 L433.82,321.95 L434.55,321.54 L435.30,321.12 L436.08,320.71 L437.05,320.20 L438.07,319.68 L439.13,319.16 L440.22,318.64 L441.32,318.12 L442.44,317.60 L443.56,317.08 L444.68,316.57 L445.79,316.06 L446.88,315.57 L447.94,315.09 L448.97,314.62 L449.84,314.22 L450.69,313.85 L451.54,313.48 L452.37,313.12 L453.19,312.76 L454.01,312.41 L454.82,312.06 L455.63,311.71 L456.44,311.35 L457.25,310.98 L458.07,310.61 L458.88,310.21 L459.72,309.80 L460.56,309.37 L461.39,308.93 L462.22,308.48 L463.06,308.03 L463.89,307.58 L464.72,307.12 L465.55,306.66 L466.38,306.21 L467.21,305.75 L468.04,305.30 L468.87,304.86 L469.69,304.42 L470.51,303.99 L471.33,303.56 L472.14,303.12 L472.95,302.69 L473.77,302.26 L474.59,301.83 L475.41,301.40 L476.24,300.98 L477.08,300.55 L477.93,300.14 L478.79,299.72 L479.72,299.28 L480.66,298.84 L481.61,298.40 L482.57,297.96 L483.54,297.53 L484.51,297.10 L485.49,296.67 L486.48,296.25 L487.47,295.82 L488.47,295.40 L489.47,294.99 L490.48,294.58 L491.54,294.15 L492.62,293.72 L493.70,293.29 L494.80,292.87 L495.91,292.45 L497.01,292.04 L498.12,291.63 L499.23,291.22 L500.33,290.82 L501.42,290.42 L502.51,290.03 L503.58,289.64 L504.57,289.29 L505.55,288.95 L506.53,288.61 L507.49,288.28 L508.46,287.95 L509.42,287.62 L510.38,287.30 L511.34,286.98 L512.31,286.65 L513.28,286.32 L514.27,285.99 L515.27,285.66 L516.34,285.30 L517.41,284.93 L518.50,284.57 L519.59,284.20 L520.68,283.83 L521.79,283.47 L522.89,283.10 L524.00,282.73 L525.11,282.36 L526.22,281.99 L527.33,281.62 L528.44,281.25 L529.56,280.87 L530.67,280.50 L531.77,280.12 L532.87,279.73 L533.96,279.35 L535.07,278.97 L536.18,278.60 L537.32,278.22 L538.48,277.84 L539.68,277.47 L540.91,277.10 L542.18,276.74 L543.87,276.28 L545.63,275.82 L547.46,275.36 L549.34,274.91 L551.25,274.46 L553.20,274.01 L555.17,273.57 L557.14,273.14 L559.10,272.71 L561.05,272.30 L562.97,271.89 L564.85,271.49 L566.62,271.12 L568.37,270.75 L570.12,270.39 L571.85,270.04 L573.59,269.69 L575.32,269.35 L577.05,269.02 L578.77,268.69 L580.51,268.38 L582.25,268.08 L583.99,267.78 L585.75,267.50 L587.53,267.23 L589.33,266.98 L591.13,266.73 L592.94,266.50 L594.75,266.28 L596.56,266.06 L598.37,265.85 L600.18,265.65 L601.98,265.46 L603.78,265.26 L605.57,265.07 L607.35,264.88 L609.19,264.69 L611.24,264.48 L613.43,264.27 L615.68,264.06 L617.92,263.86 L620.09,263.66 L622.12,263.48 L623.94,263.32 L625.47,263.18 L626.65,263.08 L627.41,263.01 L627.68,262.99" fill="none" stroke="#111" stroke-width="2.1" stroke-dasharray="6.3 5.3"/>
<path d="M373.60,238.44 L373.61,238.88 L373.63,240.11 L373.66,242.03 L373.71,244.52 L373.76,247.46 L373.82,250.74 L373.88,254.24 L373.94,257.84 L374.00,261.43 L374.06,264.89 L374.12,268.11 L374.17,270.97 L374.21,273.50 L374.25,276.07 L374.29,278.65 L374.33,281.24 L374.36,283.83 L374.40,286.38 L374.44,288.90 L374.48,291.36 L374.52,293.75 L374.57,296.05 L374.61,298.26 L374.66,300.35 L374.70,301.76 L374.74,303.12 L374.77,304.43 L374.81,305.71 L374.85,306.95 L374.89,308.16 L374.93,309.35 L374.97,310.51 L375.02,311.66 L375.06,312.79 L375.11,313.92 L375.16,315.04 L375.20,315.97 L375.24,316.88 L375.28,317.76 L375.31,318.62 L375.35,319.47 L375.39,320.32 L375.44,321.16 L375.48,322.01 L375.53,322.86 L375.59,323.73 L375.65,324.62 L375.73,325.53 L375.81,326.61 L375.88,327.74 L375.96,328.90 L376.04,330.10 L376.13,331.30 L376.22,332.50 L376.33,333.68 L376.45,334.83 L376.59,335.94 L376.75,336.99 L376.93,337.97 L377.14,338.86 L377.30,339.40 L377.46,339.92 L377.63,340.42 L377.81,340.91 L378.00,341.37 L378.19,341.82 L378.40,342.24 L378.60,342.65 L378.82,343.04 L379.03,343.41 L379.25,343.77 L379.48,344.11 L379.65,344.35 L379.82,344.61 L379.99,344.86 L380.16,345.12 L380.34,345.36 L380.52,345.58 L380.71,345.79 L380.89,345.97 L381.08,346.12 L381.28,346.23 L381.47,346.29 L381.67,346.31 L381.96,346.24 L382.24,346.08 L382.53,345.82 L382.83,345.49 L383.14,345.11 L383.45,344.67 L383.76,344.20 L384.09,343.71 L384.41,343.21 L384.75,342.72 L385.09,342.24 L385.43,341.80 L385.88,341.24 L386.34,340.67 L386.81,340.08 L387.29,339.48 L387.78,338.86 L388.27,338.23 L388.78,337.60 L389.29,336.95 L389.80,336.30 L390.33,335.65 L390.85,335.00 L391.38,334.35 L391.99,333.61 L392.62,332.85 L393.27,332.08 L393.94,331.29 L394.62,330.50 L395.30,329.71 L395.96,328.92 L396.62,328.14 L397.25,327.37 L397.86,326.63 L398.43,325.91 L398.96,325.22 L399.32,324.73 L399.65,324.26 L399.96,323.80 L400.25,323.36 L400.53,322.92 L400.81,322.49 L401.08,322.06 L401.36,321.63 L401.65,321.18 L401.96,320.73 L402.29,320.25 L402.64,319.76 L403.15,319.07 L403.69,318.35 L404.26,317.60 L404.84,316.84 L405.45,316.06 L406.07,315.27 L406.71,314.47 L407.35,313.67 L408.01,312.88 L408.67,312.08 L409.34,311.30 L410.01,310.53 L410.73,309.72 L411.47,308.91 L412.23,308.11 L413.00,307.30 L413.78,306.50 L414.56,305.70 L415.36,304.90 L416.15,304.10 L416.94,303.30 L417.73,302.49 L418.51,301.69 L419.29,300.87 L420.06,300.05 L420.83,299.22 L421.59,298.38 L422.36,297.54 L423.12,296.70 L423.88,295.85 L424.65,295.01 L425.41,294.18 L426.18,293.35 L426.95,292.52 L427.72,291.71 L428.50,290.90 L429.25,290.13 L430.01,289.36 L430.77,288.60 L431.53,287.84 L432.30,287.09 L433.06,286.34 L433.83,285.60 L434.60,284.87 L435.37,284.14 L436.14,283.41 L436.92,282.70 L437.70,281.98 L438.47,281.29 L439.23,280.60 L440.00,279.91 L440.77,279.22 L441.54,278.54 L442.32,277.86 L443.10,277.20 L443.88,276.55 L444.67,275.91 L445.46,275.29 L446.25,274.69 L447.05,274.11 L447.81,273.59 L448.58,273.09 L449.35,272.60 L450.13,272.13 L450.91,271.67 L451.69,271.22 L452.47,270.78 L453.26,270.35 L454.04,269.93 L454.83,269.50 L455.62,269.08 L456.40,268.66 L457.17,268.25 L457.94,267.84 L458.71,267.44 L459.48,267.04 L460.25,266.64 L461.02,266.26 L461.80,265.87 L462.57,265.49 L463.35,265.12 L464.12,264.76 L464.90,264.40 L465.68,264.04 L466.45,263.70 L467.21,263.38 L467.97,263.07 L468.73,262.78 L469.48,262.48 L470.24,262.19 L471.01,261.90 L471.79,261.60 L472.58,261.29 L473.38,260.96 L474.20,260.62 L475.03,260.26 L476.08,259.79 L477.16,259.28 L478.26,258.74 L479.37,258.18 L480.51,257.60 L481.65,257.02 L482.81,256.44 L483.98,255.86 L485.16,255.30 L486.34,254.75 L487.52,254.24 L488.70,253.76 L489.92,253.30 L491.16,252.85 L492.43,252.42 L493.70,252.00 L494.99,251.60 L496.28,251.21 L497.55,250.83 L498.82,250.46 L500.06,250.11 L501.27,249.78 L502.45,249.45 L503.58,249.14 L504.43,248.91 L505.25,248.69 L506.03,248.48 L506.78,248.29 L507.52,248.10 L508.26,247.92 L509.00,247.75 L509.76,247.57 L510.54,247.39 L511.36,247.21 L512.22,247.03 L513.14,246.83 L514.59,246.53 L516.16,246.22 L517.83,245.89 L519.58,245.56 L521.39,245.23 L523.22,244.89 L525.06,244.56 L526.87,244.25 L528.64,243.94 L530.33,243.66 L531.93,243.40 L533.40,243.16 L534.35,243.01 L535.22,242.87 L536.03,242.75 L536.79,242.63 L537.54,242.52 L538.27,242.42 L539.02,242.32 L539.80,242.22 L540.63,242.12 L541.53,242.02 L542.51,241.91 L543.60,241.80 L546.12,241.54 L549.00,241.27 L552.17,240.99 L555.60,240.69 L559.24,240.40 L563.02,240.10 L566.91,239.81 L570.85,239.54 L574.79,239.28 L578.68,239.04 L582.46,238.83 L586.10,238.65 L589.91,238.50 L594.16,238.37 L598.71,238.26 L603.41,238.17 L608.11,238.10 L612.66,238.04 L616.91,237.99 L620.73,237.96 L623.95,237.94 L626.43,237.92 L628.03,237.91 L628.60,237.91" fill="none" stroke="#111" stroke-width="2.0" stroke-linejoin="round"/>
<circle cx="373.60" cy="339.17" r="2.3" fill="#fff" stroke="#111" stroke-width="1.3"/>
<circle cx="377.14" cy="344.42" r="2.3" fill="#fff" stroke="#111" stroke-width="1.3"/>
<circle cx="394.00" cy="343.69" r="2.3" fill="#fff" stroke="#111" stroke-width="1.3"/>
<circle cx="404.77" cy="345.47" r="2.3" fill="#fff" stroke="#111" stroke-width="1.3"/>
<circle cx="415.39" cy="338.12" r="2.3" fill="#fff" stroke="#111" stroke-width="1.3"/>
<circle cx="437.07" cy="317.14" r="2.3" fill="#fff" stroke="#111" stroke-width="1.3"/>
<circle cx="457.68" cy="313.46" r="2.3" fill="#fff" stroke="#111" stroke-width="1.3"/>
<circle cx="500.39" cy="295.42" r="2.3" fill="#fff" stroke="#111" stroke-width="1.3"/>
<circle cx="543.25" cy="274.53" r="2.3" fill="#fff" stroke="#111" stroke-width="1.3"/>
<circle cx="585.75" cy="261.31" r="2.3" fill="#fff" stroke="#111" stroke-width="1.3"/>
<circle cx="627.89" cy="261.31" r="2.3" fill="#fff" stroke="#111" stroke-width="1.3"/>
<path d="M373.60,242.72 L376.05,248.11 L371.15,248.11 Z" fill="#fff" stroke="#111" stroke-width="1.3" stroke-linejoin="round"/>
<path d="M387.48,327.72 L389.93,333.11 L385.03,333.11 Z" fill="#fff" stroke="#111" stroke-width="1.3" stroke-linejoin="round"/>
<path d="M394.00,330.34 L396.45,335.73 L391.55,335.73 Z" fill="#fff" stroke="#111" stroke-width="1.3" stroke-linejoin="round"/>
<path d="M405.19,325.09 L407.64,330.48 L402.74,330.48 Z" fill="#fff" stroke="#111" stroke-width="1.3" stroke-linejoin="round"/>
<path d="M415.89,306.20 L418.34,311.59 L413.44,311.59 Z" fill="#fff" stroke="#111" stroke-width="1.3" stroke-linejoin="round"/>
<path d="M437.07,273.68 L439.52,279.07 L434.62,279.07 Z" fill="#fff" stroke="#111" stroke-width="1.3" stroke-linejoin="round"/>
<path d="M457.68,273.68 L460.13,279.07 L455.23,279.07 Z" fill="#fff" stroke="#111" stroke-width="1.3" stroke-linejoin="round"/>
<path d="M500.39,255.52 L502.84,260.91 L497.94,260.91 Z" fill="#fff" stroke="#111" stroke-width="1.3" stroke-linejoin="round"/>
<path d="M543.25,245.87 L545.70,251.26 L540.80,251.26 Z" fill="#fff" stroke="#111" stroke-width="1.3" stroke-linejoin="round"/>
<path d="M585.75,245.87 L588.20,251.26 L583.30,251.26 Z" fill="#fff" stroke="#111" stroke-width="1.3" stroke-linejoin="round"/>
<path d="M627.89,254.89 L630.34,260.28 L625.44,260.28 Z" fill="#fff" stroke="#111" stroke-width="1.3" stroke-linejoin="round"/>
<circle cx="373.60" cy="247.88" r="2.6" fill="#111"/>
<circle cx="376.43" cy="316.72" r="2.6" fill="#111"/>
<circle cx="376.43" cy="328.78" r="2.6" fill="#111"/>
<circle cx="375.37" cy="340.01" r="2.6" fill="#111"/>
<circle cx="381.04" cy="344.63" r="2.6" fill="#111"/>
<circle cx="387.48" cy="338.12" r="2.6" fill="#111"/>
<circle cx="394.00" cy="318.08" r="2.6" fill="#111"/>
<circle cx="404.77" cy="319.55" r="2.6" fill="#111"/>
<circle cx="415.39" cy="290.69" r="2.6" fill="#111"/>
<circle cx="437.07" cy="301.40" r="2.6" fill="#111"/>
<circle cx="457.68" cy="242.63" r="2.6" fill="#111"/>
<circle cx="500.39" cy="266.77" r="2.6" fill="#111"/>
<circle cx="543.25" cy="237.39" r="2.6" fill="#111"/>
<circle cx="585.75" cy="232.14" r="2.6" fill="#111"/>
<circle cx="627.89" cy="229.31" r="2.6" fill="#111"/>
<circle cx="627.89" cy="261.73" r="2.6" fill="#111"/>
<text x="183.0" y="25.7" font-size="13" font-family="Liberation Sans, sans-serif" font-weight="bold" stroke="#000" stroke-width="0.3" textLength="143.5" lengthAdjust="spacing">IV detomidine 30 <tspan font-style="italic">μ</tspan>g/kg</text>
<text x="492.9" y="25.6" font-size="13" font-family="Liberation Sans, sans-serif" font-weight="bold" stroke="#000" stroke-width="0.3" textLength="144.0" lengthAdjust="spacing">IM detomidine 30 <tspan font-style="italic">μ</tspan>g/kg</text>
<text x="455.0" y="218.5" font-size="13" font-family="Liberation Sans, sans-serif" font-weight="bold" stroke="#000" stroke-width="0.3" textLength="178.7" lengthAdjust="spacing">IV dexmedetomidine 5 <tspan font-style="italic">μ</tspan>g/kg</text>
<text x="162.8" y="217.8" font-size="13" font-family="Liberation Sans, sans-serif" font-weight="bold" stroke="#000" stroke-width="0.3" textLength="122" lengthAdjust="spacing">IV medetomidine 10</text>
<text x="286.2" y="217.8" font-size="13" font-family="Liberation Sans, sans-serif" font-weight="bold" stroke="#000" stroke-width="0.3" textLength="33.5" lengthAdjust="spacing"><tspan font-style="italic">μ</tspan>g/kg</text>
<text transform="translate(246.3,420.6) scale(1,1.06)" font-size="17.6" font-family="Liberation Sans, sans-serif" font-weight="bold" stroke="#000" stroke-width="0.3" textLength="208" lengthAdjust="spacing">Time from baseline (min)</text>
<text transform="translate(20.4,278.5) rotate(-90)" x="0" y="0" font-size="17.4" font-family="Liberation Sans, sans-serif" font-weight="bold" stroke="#000" stroke-width="0.15" textLength="141.3" lengthAdjust="spacing">Head height (cm)</text>
</svg>
</body></html>
